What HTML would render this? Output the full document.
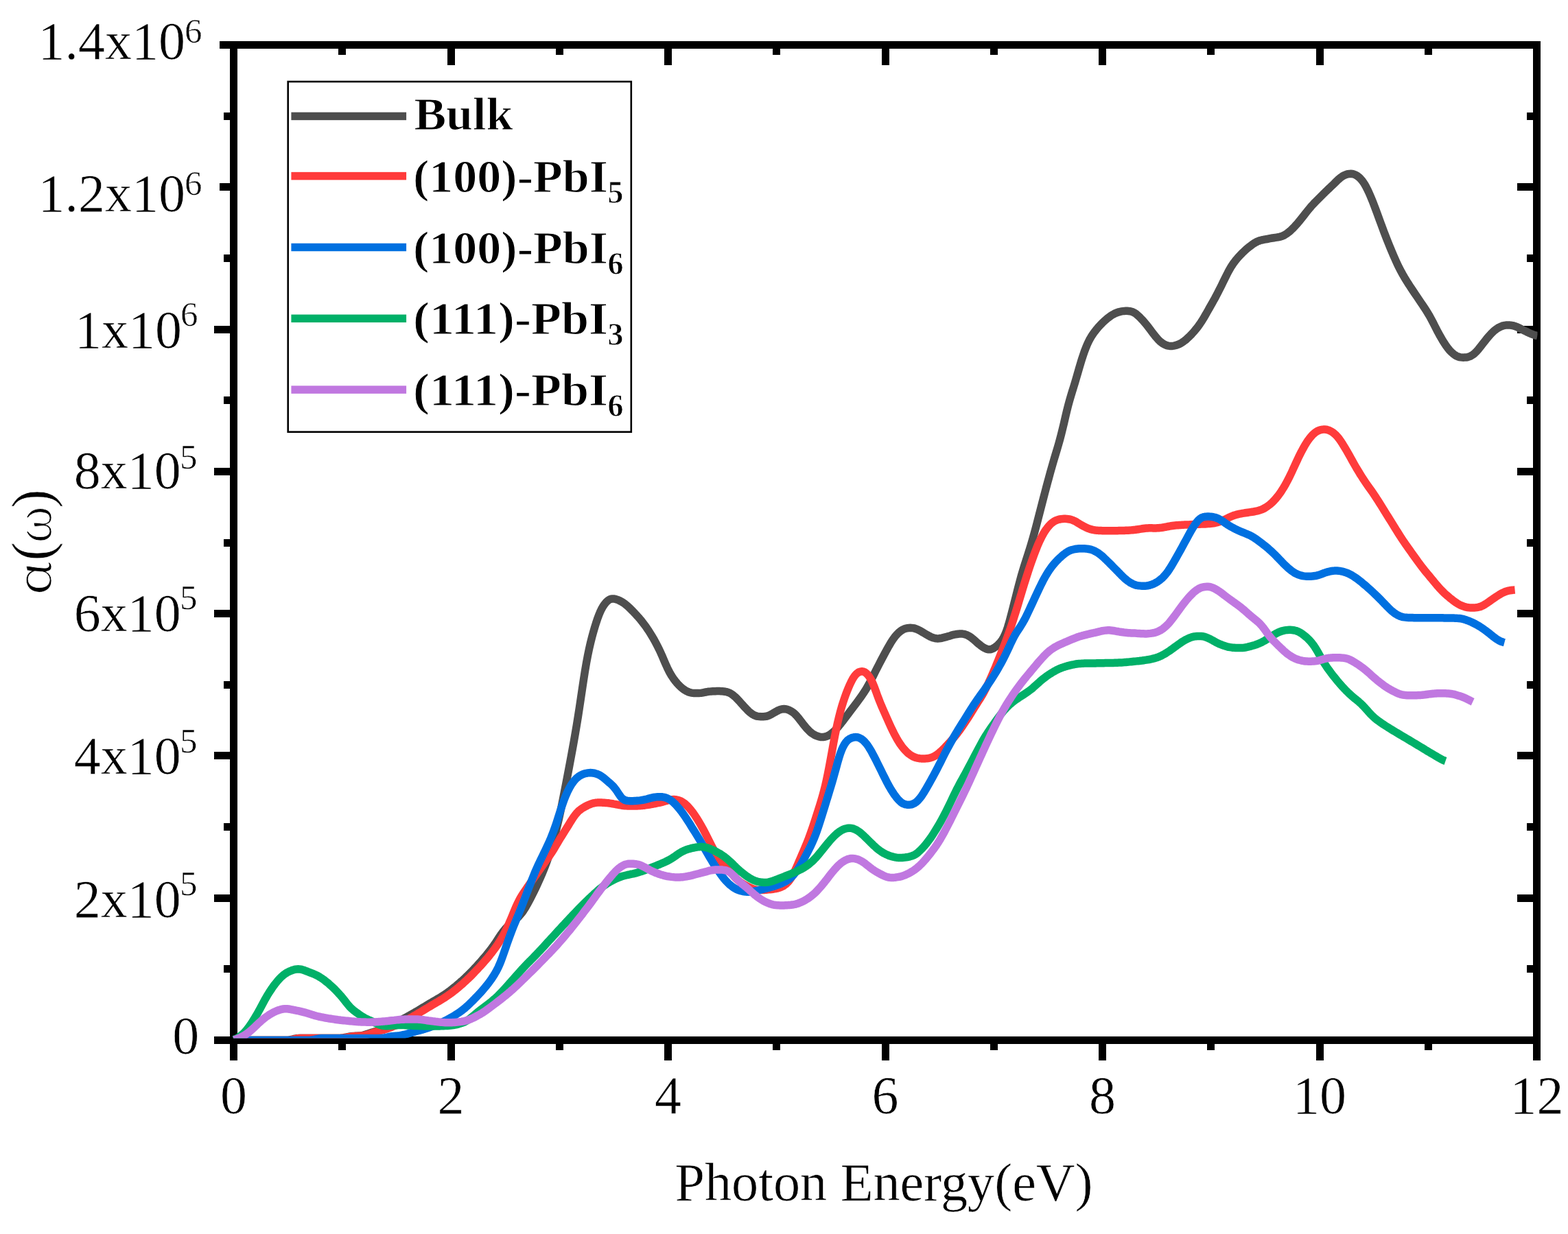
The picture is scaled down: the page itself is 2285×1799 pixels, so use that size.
<!DOCTYPE html>
<html lang="en">
<head>
<meta charset="utf-8">
<title>Absorption coefficient vs photon energy</title>
<style>
html,body{margin:0;padding:0;background:#ffffff;}
body{width:2285px;height:1799px;overflow:hidden;}
svg{display:block;}
</style>
</head>
<body>
<svg width="2285" height="1799" viewBox="0 0 2285 1799" role="img" aria-label="Absorption coefficient versus photon energy">
<rect x="0" y="0" width="2285" height="1799" fill="#ffffff"/>
<defs><clipPath id="plot"><rect x="337.5" y="0" width="1903.0" height="1513.6"/></clipPath></defs>
<g fill="#000" shape-rendering="crispEdges">
<rect x="335" y="60" width="11" height="1462"/>
<rect x="2234" y="60" width="11" height="1462"/>
<rect x="335" y="60" width="1910" height="11"/>
<rect x="335" y="1511" width="1910" height="11"/>
<rect x="335.00" y="1522" width="11" height="23.5"/>
<rect x="335.00" y="71" width="11" height="23.5"/>
<rect x="493.25" y="1522" width="11" height="9"/>
<rect x="493.25" y="71" width="11" height="9"/>
<rect x="651.50" y="1522" width="11" height="23.5"/>
<rect x="651.50" y="71" width="11" height="23.5"/>
<rect x="809.75" y="1522" width="11" height="9"/>
<rect x="809.75" y="71" width="11" height="9"/>
<rect x="968.00" y="1522" width="11" height="23.5"/>
<rect x="968.00" y="71" width="11" height="23.5"/>
<rect x="1126.25" y="1522" width="11" height="9"/>
<rect x="1126.25" y="71" width="11" height="9"/>
<rect x="1284.50" y="1522" width="11" height="23.5"/>
<rect x="1284.50" y="71" width="11" height="23.5"/>
<rect x="1442.75" y="1522" width="11" height="9"/>
<rect x="1442.75" y="71" width="11" height="9"/>
<rect x="1601.00" y="1522" width="11" height="23.5"/>
<rect x="1601.00" y="71" width="11" height="23.5"/>
<rect x="1759.25" y="1522" width="11" height="9"/>
<rect x="1759.25" y="71" width="11" height="9"/>
<rect x="1917.50" y="1522" width="11" height="23.5"/>
<rect x="1917.50" y="71" width="11" height="23.5"/>
<rect x="2075.75" y="1522" width="11" height="9"/>
<rect x="2075.75" y="71" width="11" height="9"/>
<rect x="2234.00" y="1522" width="11" height="23.5"/>
<rect x="2234.00" y="71" width="11" height="23.5"/>
<rect x="311.5" y="1511.00" width="23.5" height="11"/>
<rect x="2210.5" y="1511.00" width="23.5" height="11"/>
<rect x="326" y="1407.36" width="9" height="11"/>
<rect x="2225" y="1407.36" width="9" height="11"/>
<rect x="311.5" y="1303.71" width="23.5" height="11"/>
<rect x="2210.5" y="1303.71" width="23.5" height="11"/>
<rect x="326" y="1200.07" width="9" height="11"/>
<rect x="2225" y="1200.07" width="9" height="11"/>
<rect x="311.5" y="1096.43" width="23.5" height="11"/>
<rect x="2210.5" y="1096.43" width="23.5" height="11"/>
<rect x="326" y="992.78" width="9" height="11"/>
<rect x="2225" y="992.78" width="9" height="11"/>
<rect x="311.5" y="889.14" width="23.5" height="11"/>
<rect x="2210.5" y="889.14" width="23.5" height="11"/>
<rect x="326" y="785.50" width="9" height="11"/>
<rect x="2225" y="785.50" width="9" height="11"/>
<rect x="311.5" y="681.86" width="23.5" height="11"/>
<rect x="2210.5" y="681.86" width="23.5" height="11"/>
<rect x="326" y="578.21" width="9" height="11"/>
<rect x="2225" y="578.21" width="9" height="11"/>
<rect x="311.5" y="474.57" width="23.5" height="11"/>
<rect x="2210.5" y="474.57" width="23.5" height="11"/>
<rect x="326" y="370.93" width="9" height="11"/>
<rect x="2225" y="370.93" width="9" height="11"/>
<rect x="320" y="267.28" width="15" height="11"/>
<rect x="2210.5" y="267.28" width="23.5" height="11"/>
<rect x="326" y="163.64" width="9" height="11"/>
<rect x="2225" y="163.64" width="9" height="11"/>
<rect x="320" y="60.00" width="15" height="11"/>
<rect x="2210.5" y="60.00" width="23.5" height="11"/>
</g>
<g clip-path="url(#plot)" fill="none" stroke-width="11.5" stroke-linejoin="round" stroke-linecap="butt">
<path d="M340.5 1516.5 L342.5 1516.5 L344.5 1516.5 L346.5 1516.5 L348.5 1516.5 L350.5 1516.5 L352.5 1516.5 L354.5 1516.5 L356.5 1516.5 L358.5 1516.5 L360.5 1516.5 L362.5 1516.5 L364.5 1516.5 L366.5 1516.5 L368.5 1516.5 L370.5 1516.5 L372.5 1516.5 L374.5 1516.5 L376.5 1516.5 L378.5 1516.5 L380.5 1516.5 L382.5 1516.5 L384.5 1516.5 L386.5 1516.5 L388.5 1516.5 L390.5 1516.5 L392.5 1516.5 L394.5 1516.5 L396.5 1516.5 L398.5 1516.5 L400.5 1516.5 L402.5 1516.5 L404.5 1516.5 L406.5 1516.5 L408.5 1516.5 L410.5 1516.5 L412.5 1516.5 L414.5 1516.5 L416.5 1516.4 L418.5 1516.4 L420.5 1516.2 L422.5 1515.9 L424.5 1515.5 L426.5 1515.0 L428.5 1514.5 L430.5 1514.1 L432.5 1513.8 L434.5 1513.6 L436.5 1513.6 L438.5 1513.5 L440.5 1513.5 L442.5 1513.5 L444.5 1513.5 L446.5 1513.5 L448.5 1513.5 L450.5 1513.5 L452.5 1513.5 L454.5 1513.5 L456.5 1513.5 L458.5 1513.5 L460.5 1513.5 L462.5 1513.5 L464.5 1513.5 L466.5 1513.5 L468.5 1513.5 L470.5 1513.5 L472.5 1513.5 L474.5 1513.5 L476.5 1513.5 L478.5 1513.5 L480.5 1513.5 L482.5 1513.5 L484.5 1513.5 L486.5 1513.5 L488.5 1513.5 L490.5 1513.5 L492.5 1513.5 L494.5 1513.4 L496.5 1513.3 L498.5 1513.1 L500.5 1512.9 L502.5 1512.5 L504.5 1512.1 L506.5 1511.7 L508.5 1511.3 L510.5 1511.0 L512.5 1510.7 L514.5 1510.5 L516.5 1510.4 L518.5 1510.3 L520.5 1510.2 L522.5 1510.1 L524.5 1509.9 L526.5 1509.7 L528.5 1509.3 L530.5 1508.8 L532.5 1508.2 L534.5 1507.6 L536.5 1506.9 L538.5 1506.3 L540.5 1505.6 L542.5 1505.0 L544.5 1504.4 L546.5 1503.9 L548.5 1503.4 L550.5 1502.8 L552.5 1502.3 L554.5 1501.6 L556.5 1500.9 L558.5 1500.2 L560.5 1499.4 L562.5 1498.5 L564.5 1497.5 L566.5 1496.6 L568.5 1495.5 L570.5 1494.5 L572.5 1493.5 L574.5 1492.4 L576.5 1491.3 L578.5 1490.3 L580.5 1489.2 L582.5 1488.2 L584.5 1487.1 L586.5 1486.0 L588.5 1484.9 L590.5 1483.8 L592.5 1482.7 L594.5 1481.6 L596.5 1480.5 L598.5 1479.4 L600.5 1478.2 L602.5 1477.1 L604.5 1475.9 L606.5 1474.8 L608.5 1473.6 L610.5 1472.4 L612.5 1471.2 L614.5 1470.0 L616.5 1468.8 L618.5 1467.6 L620.5 1466.4 L622.5 1465.2 L624.5 1464.0 L626.5 1462.8 L628.5 1461.6 L630.5 1460.4 L632.5 1459.3 L634.5 1458.1 L636.5 1456.9 L638.5 1455.8 L640.5 1454.6 L642.5 1453.4 L644.5 1452.1 L646.5 1450.8 L648.5 1449.5 L650.5 1448.1 L652.5 1446.7 L654.5 1445.3 L656.5 1443.8 L658.5 1442.2 L660.5 1440.6 L662.5 1439.0 L664.5 1437.4 L666.5 1435.7 L668.5 1434.0 L670.5 1432.2 L672.5 1430.5 L674.5 1428.7 L676.5 1426.8 L678.5 1424.9 L680.5 1423.0 L682.5 1421.0 L684.5 1419.0 L686.5 1417.0 L688.5 1415.0 L690.5 1412.9 L692.5 1410.7 L694.5 1408.6 L696.5 1406.4 L698.5 1404.2 L700.5 1401.9 L702.5 1399.7 L704.5 1397.3 L706.5 1395.0 L708.5 1392.6 L710.5 1390.1 L712.5 1387.6 L714.5 1385.1 L716.5 1382.4 L718.5 1379.7 L720.5 1376.8 L722.5 1373.9 L724.5 1370.8 L726.5 1367.8 L728.5 1364.8 L730.5 1361.8 L732.5 1359.0 L734.5 1356.4 L736.5 1354.1 L738.5 1351.9 L740.5 1349.9 L742.5 1348.0 L744.5 1346.3 L746.5 1344.6 L748.5 1342.9 L750.5 1341.2 L752.5 1339.5 L754.5 1337.6 L756.5 1335.6 L758.5 1333.3 L760.5 1330.9 L762.5 1328.1 L764.5 1325.0 L766.5 1321.7 L768.5 1318.2 L770.5 1314.5 L772.5 1310.7 L774.5 1306.8 L776.5 1302.9 L778.5 1298.9 L780.5 1294.7 L782.5 1290.5 L784.5 1286.2 L786.5 1281.7 L788.5 1277.2 L790.5 1272.5 L792.5 1267.6 L794.5 1262.6 L796.5 1257.2 L798.5 1251.6 L800.5 1245.7 L802.5 1239.4 L804.5 1232.7 L806.5 1225.7 L808.5 1218.3 L810.5 1210.4 L812.5 1202.2 L814.5 1193.4 L816.5 1184.2 L818.5 1174.6 L820.5 1164.6 L822.5 1154.4 L824.5 1144.1 L826.5 1133.6 L828.5 1123.1 L830.5 1112.5 L832.5 1101.8 L834.5 1090.9 L836.5 1079.8 L838.5 1068.3 L840.5 1056.4 L842.5 1044.0 L844.5 1031.0 L846.5 1017.6 L848.5 1004.1 L850.5 990.8 L852.5 978.1 L854.5 966.4 L856.5 955.7 L858.5 946.1 L860.5 937.4 L862.5 929.4 L864.5 922.0 L866.5 915.1 L868.5 908.6 L870.5 902.6 L872.5 897.2 L874.5 892.3 L876.5 888.1 L878.5 884.5 L880.5 881.5 L882.5 878.9 L884.5 876.8 L886.5 875.1 L888.5 873.9 L890.5 873.2 L892.5 872.9 L894.5 872.9 L896.5 873.3 L898.5 873.9 L900.5 874.6 L902.5 875.5 L904.5 876.5 L906.5 877.6 L908.5 878.9 L910.5 880.3 L912.5 881.9 L914.5 883.6 L916.5 885.4 L918.5 887.4 L920.5 889.4 L922.5 891.4 L924.5 893.5 L926.5 895.6 L928.5 897.8 L930.5 900.0 L932.5 902.4 L934.5 904.8 L936.5 907.3 L938.5 909.9 L940.5 912.6 L942.5 915.5 L944.5 918.4 L946.5 921.5 L948.5 924.7 L950.5 928.0 L952.5 931.4 L954.5 935.0 L956.5 938.7 L958.5 942.6 L960.5 946.6 L962.5 950.9 L964.5 955.3 L966.5 960.0 L968.5 964.7 L970.5 969.3 L972.5 973.7 L974.5 977.8 L976.5 981.6 L978.5 984.9 L980.5 988.0 L982.5 990.8 L984.5 993.4 L986.5 995.8 L988.5 998.0 L990.5 1000.1 L992.5 1001.9 L994.5 1003.6 L996.5 1005.1 L998.5 1006.4 L1000.5 1007.6 L1002.5 1008.5 L1004.5 1009.2 L1006.5 1009.8 L1008.5 1010.2 L1010.5 1010.4 L1012.5 1010.5 L1014.5 1010.6 L1016.5 1010.6 L1018.5 1010.6 L1020.5 1010.4 L1022.5 1010.2 L1024.5 1009.8 L1026.5 1009.4 L1028.5 1009.0 L1030.5 1008.6 L1032.5 1008.3 L1034.5 1008.1 L1036.5 1007.9 L1038.5 1007.8 L1040.5 1007.7 L1042.5 1007.7 L1044.5 1007.6 L1046.5 1007.6 L1048.5 1007.6 L1050.5 1007.7 L1052.5 1007.8 L1054.5 1008.0 L1056.5 1008.3 L1058.5 1008.6 L1060.5 1009.2 L1062.5 1009.9 L1064.5 1010.9 L1066.5 1012.1 L1068.5 1013.6 L1070.5 1015.3 L1072.5 1017.1 L1074.5 1019.1 L1076.5 1021.3 L1078.5 1023.4 L1080.5 1025.7 L1082.5 1027.9 L1084.5 1030.2 L1086.5 1032.3 L1088.5 1034.4 L1090.5 1036.4 L1092.5 1038.2 L1094.5 1039.8 L1096.5 1041.2 L1098.5 1042.4 L1100.5 1043.3 L1102.5 1044.0 L1104.5 1044.4 L1106.5 1044.6 L1108.5 1044.7 L1110.5 1044.8 L1112.5 1044.7 L1114.5 1044.6 L1116.5 1044.3 L1118.5 1043.8 L1120.5 1043.1 L1122.5 1042.1 L1124.5 1041.1 L1126.5 1039.9 L1128.5 1038.7 L1130.5 1037.6 L1132.5 1036.5 L1134.5 1035.5 L1136.5 1034.7 L1138.5 1034.1 L1140.5 1033.7 L1142.5 1033.5 L1144.5 1033.7 L1146.5 1034.1 L1148.5 1034.7 L1150.5 1035.6 L1152.5 1036.6 L1154.5 1037.9 L1156.5 1039.3 L1158.5 1041.1 L1160.5 1043.1 L1162.5 1045.4 L1164.5 1047.9 L1166.5 1050.5 L1168.5 1053.1 L1170.5 1055.7 L1172.5 1058.2 L1174.5 1060.6 L1176.5 1062.8 L1178.5 1064.9 L1180.5 1066.8 L1182.5 1068.5 L1184.5 1069.9 L1186.5 1071.1 L1188.5 1072.2 L1190.5 1073.0 L1192.5 1073.6 L1194.5 1074.1 L1196.5 1074.5 L1198.5 1074.5 L1200.5 1074.4 L1202.5 1074.0 L1204.5 1073.4 L1206.5 1072.6 L1208.5 1071.5 L1210.5 1070.2 L1212.5 1068.7 L1214.5 1067.0 L1216.5 1065.0 L1218.5 1062.9 L1220.5 1060.7 L1222.5 1058.3 L1224.5 1055.9 L1226.5 1053.3 L1228.5 1050.8 L1230.5 1048.1 L1232.5 1045.5 L1234.5 1042.8 L1236.5 1040.2 L1238.5 1037.6 L1240.5 1034.9 L1242.5 1032.3 L1244.5 1029.6 L1246.5 1027.0 L1248.5 1024.3 L1250.5 1021.6 L1252.5 1018.9 L1254.5 1016.1 L1256.5 1013.2 L1258.5 1010.3 L1260.5 1007.2 L1262.5 1003.9 L1264.5 1000.5 L1266.5 996.9 L1268.5 993.1 L1270.5 989.2 L1272.5 985.3 L1274.5 981.3 L1276.5 977.3 L1278.5 973.4 L1280.5 969.5 L1282.5 965.6 L1284.5 961.8 L1286.5 958.0 L1288.5 954.3 L1290.5 950.5 L1292.5 946.9 L1294.5 943.3 L1296.5 939.8 L1298.5 936.4 L1300.5 933.3 L1302.5 930.4 L1304.5 927.8 L1306.5 925.5 L1308.5 923.4 L1310.5 921.5 L1312.5 919.9 L1314.5 918.6 L1316.5 917.5 L1318.5 916.7 L1320.5 916.1 L1322.5 915.7 L1324.5 915.4 L1326.5 915.3 L1328.5 915.4 L1330.5 915.6 L1332.5 916.0 L1334.5 916.7 L1336.5 917.4 L1338.5 918.4 L1340.5 919.4 L1342.5 920.5 L1344.5 921.7 L1346.5 922.9 L1348.5 924.1 L1350.5 925.3 L1352.5 926.4 L1354.5 927.5 L1356.5 928.5 L1358.5 929.3 L1360.5 930.0 L1362.5 930.5 L1364.5 930.8 L1366.5 930.9 L1368.5 930.8 L1370.5 930.5 L1372.5 930.2 L1374.5 929.7 L1376.5 929.2 L1378.5 928.7 L1380.5 928.1 L1382.5 927.5 L1384.5 926.9 L1386.5 926.2 L1388.5 925.7 L1390.5 925.2 L1392.5 924.8 L1394.5 924.5 L1396.5 924.2 L1398.5 924.1 L1400.5 924.0 L1402.5 924.1 L1404.5 924.4 L1406.5 924.9 L1408.5 925.6 L1410.5 926.5 L1412.5 927.6 L1414.5 928.9 L1416.5 930.4 L1418.5 932.0 L1420.5 933.8 L1422.5 935.6 L1424.5 937.3 L1426.5 939.0 L1428.5 940.6 L1430.5 942.1 L1432.5 943.5 L1434.5 944.6 L1436.5 945.6 L1438.5 946.4 L1440.5 946.8 L1442.5 946.8 L1444.5 946.5 L1446.5 945.7 L1448.5 944.6 L1450.5 943.3 L1452.5 941.7 L1454.5 939.9 L1456.5 937.9 L1458.5 935.6 L1460.5 932.8 L1462.5 929.5 L1464.5 925.3 L1466.5 920.3 L1468.5 914.5 L1470.5 907.8 L1472.5 900.6 L1474.5 892.9 L1476.5 885.1 L1478.5 877.2 L1480.5 869.3 L1482.5 861.4 L1484.5 853.7 L1486.5 846.1 L1488.5 838.9 L1490.5 832.0 L1492.5 825.5 L1494.5 819.2 L1496.5 813.0 L1498.5 806.8 L1500.5 800.5 L1502.5 794.0 L1504.5 787.2 L1506.5 780.1 L1508.5 772.8 L1510.5 765.2 L1512.5 757.5 L1514.5 749.7 L1516.5 742.0 L1518.5 734.2 L1520.5 726.5 L1522.5 718.9 L1524.5 711.3 L1526.5 703.8 L1528.5 696.4 L1530.5 689.1 L1532.5 682.0 L1534.5 675.0 L1536.5 668.2 L1538.5 661.5 L1540.5 654.8 L1542.5 648.0 L1544.5 640.9 L1546.5 633.3 L1548.5 625.2 L1550.5 616.8 L1552.5 608.1 L1554.5 599.6 L1556.5 591.6 L1558.5 584.2 L1560.5 577.3 L1562.5 570.8 L1564.5 564.4 L1566.5 557.8 L1568.5 551.0 L1570.5 544.1 L1572.5 537.2 L1574.5 530.3 L1576.5 523.8 L1578.5 517.7 L1580.5 511.9 L1582.5 506.7 L1584.5 501.9 L1586.5 497.6 L1588.5 493.8 L1590.5 490.4 L1592.5 487.3 L1594.5 484.5 L1596.5 481.9 L1598.5 479.4 L1600.5 477.1 L1602.5 474.9 L1604.5 472.8 L1606.5 470.7 L1608.5 468.8 L1610.5 467.0 L1612.5 465.2 L1614.5 463.6 L1616.5 462.1 L1618.5 460.6 L1620.5 459.3 L1622.5 458.2 L1624.5 457.1 L1626.5 456.2 L1628.5 455.5 L1630.5 454.8 L1632.5 454.3 L1634.5 453.9 L1636.5 453.6 L1638.5 453.4 L1640.5 453.3 L1642.5 453.3 L1644.5 453.5 L1646.5 453.7 L1648.5 454.1 L1650.5 454.8 L1652.5 455.7 L1654.5 456.9 L1656.5 458.4 L1658.5 460.2 L1660.5 462.0 L1662.5 464.1 L1664.5 466.2 L1666.5 468.4 L1668.5 470.7 L1670.5 473.1 L1672.5 475.6 L1674.5 478.2 L1676.5 480.9 L1678.5 483.6 L1680.5 486.2 L1682.5 488.8 L1684.5 491.3 L1686.5 493.6 L1688.5 495.7 L1690.5 497.7 L1692.5 499.3 L1694.5 500.7 L1696.5 501.9 L1698.5 502.8 L1700.5 503.6 L1702.5 504.1 L1704.5 504.4 L1706.5 504.5 L1708.5 504.4 L1710.5 504.1 L1712.5 503.7 L1714.5 503.2 L1716.5 502.4 L1718.5 501.6 L1720.5 500.6 L1722.5 499.4 L1724.5 498.0 L1726.5 496.5 L1728.5 494.9 L1730.5 493.1 L1732.5 491.3 L1734.5 489.3 L1736.5 487.2 L1738.5 485.0 L1740.5 482.7 L1742.5 480.3 L1744.5 477.8 L1746.5 475.2 L1748.5 472.4 L1750.5 469.4 L1752.5 466.2 L1754.5 462.9 L1756.5 459.5 L1758.5 456.0 L1760.5 452.5 L1762.5 448.9 L1764.5 445.4 L1766.5 441.9 L1768.5 438.3 L1770.5 434.7 L1772.5 430.9 L1774.5 427.1 L1776.5 423.2 L1778.5 419.2 L1780.5 415.2 L1782.5 411.1 L1784.5 407.0 L1786.5 402.9 L1788.5 399.0 L1790.5 395.1 L1792.5 391.6 L1794.5 388.2 L1796.5 385.2 L1798.5 382.4 L1800.5 379.8 L1802.5 377.4 L1804.5 375.1 L1806.5 372.9 L1808.5 370.8 L1810.5 368.7 L1812.5 366.8 L1814.5 364.9 L1816.5 363.1 L1818.5 361.4 L1820.5 359.8 L1822.5 358.3 L1824.5 356.8 L1826.5 355.4 L1828.5 354.1 L1830.5 353.0 L1832.5 352.0 L1834.5 351.2 L1836.5 350.5 L1838.5 350.0 L1840.5 349.6 L1842.5 349.2 L1844.5 348.8 L1846.5 348.5 L1848.5 348.1 L1850.5 347.7 L1852.5 347.3 L1854.5 347.0 L1856.5 346.7 L1858.5 346.4 L1860.5 346.1 L1862.5 345.8 L1864.5 345.4 L1866.5 344.9 L1868.5 344.2 L1870.5 343.4 L1872.5 342.3 L1874.5 341.0 L1876.5 339.6 L1878.5 338.0 L1880.5 336.3 L1882.5 334.4 L1884.5 332.5 L1886.5 330.4 L1888.5 328.2 L1890.5 325.9 L1892.5 323.6 L1894.5 321.1 L1896.5 318.6 L1898.5 316.1 L1900.5 313.6 L1902.5 311.0 L1904.5 308.5 L1906.5 306.0 L1908.5 303.6 L1910.5 301.2 L1912.5 299.0 L1914.5 296.8 L1916.5 294.7 L1918.5 292.7 L1920.5 290.7 L1922.5 288.7 L1924.5 286.7 L1926.5 284.7 L1928.5 282.7 L1930.5 280.8 L1932.5 278.8 L1934.5 276.9 L1936.5 275.0 L1938.5 273.1 L1940.5 271.2 L1942.5 269.3 L1944.5 267.4 L1946.5 265.4 L1948.5 263.4 L1950.5 261.5 L1952.5 259.8 L1954.5 258.2 L1956.5 256.9 L1958.5 255.8 L1960.5 254.9 L1962.5 254.2 L1964.5 253.7 L1966.5 253.4 L1968.5 253.3 L1970.5 253.5 L1972.5 253.9 L1974.5 254.6 L1976.5 255.6 L1978.5 256.9 L1980.5 258.5 L1982.5 260.4 L1984.5 262.7 L1986.5 265.4 L1988.5 268.4 L1990.5 271.9 L1992.5 275.8 L1994.5 280.0 L1996.5 284.5 L1998.5 289.2 L2000.5 294.2 L2002.5 299.3 L2004.5 304.6 L2006.5 310.0 L2008.5 315.5 L2010.5 320.9 L2012.5 326.4 L2014.5 331.8 L2016.5 337.2 L2018.5 342.4 L2020.5 347.6 L2022.5 352.6 L2024.5 357.6 L2026.5 362.5 L2028.5 367.2 L2030.5 371.9 L2032.5 376.5 L2034.5 381.0 L2036.5 385.3 L2038.5 389.4 L2040.5 393.3 L2042.5 397.1 L2044.5 400.7 L2046.5 404.2 L2048.5 407.5 L2050.5 410.7 L2052.5 413.9 L2054.5 417.0 L2056.5 420.0 L2058.5 423.0 L2060.5 426.0 L2062.5 428.9 L2064.5 431.9 L2066.5 434.9 L2068.5 437.9 L2070.5 440.9 L2072.5 443.8 L2074.5 446.8 L2076.5 449.8 L2078.5 452.9 L2080.5 456.1 L2082.5 459.4 L2084.5 463.0 L2086.5 466.7 L2088.5 470.5 L2090.5 474.5 L2092.5 478.4 L2094.5 482.3 L2096.5 486.0 L2098.5 489.7 L2100.5 493.2 L2102.5 496.6 L2104.5 499.8 L2106.5 502.8 L2108.5 505.6 L2110.5 508.3 L2112.5 510.7 L2114.5 512.8 L2116.5 514.7 L2118.5 516.4 L2120.5 517.8 L2122.5 519.0 L2124.5 519.8 L2126.5 520.5 L2128.5 520.9 L2130.5 521.1 L2132.5 521.2 L2134.5 521.1 L2136.5 521.0 L2138.5 520.7 L2140.5 520.1 L2142.5 519.4 L2144.5 518.3 L2146.5 517.0 L2148.5 515.4 L2150.5 513.6 L2152.5 511.5 L2154.5 509.2 L2156.5 506.7 L2158.5 504.2 L2160.5 501.6 L2162.5 499.0 L2164.5 496.4 L2166.5 493.9 L2168.5 491.5 L2170.5 489.2 L2172.5 487.0 L2174.5 484.9 L2176.5 483.1 L2178.5 481.3 L2180.5 479.8 L2182.5 478.5 L2184.5 477.3 L2186.5 476.3 L2188.5 475.5 L2190.5 474.8 L2192.5 474.4 L2194.5 474.1 L2196.5 474.0 L2198.5 474.0 L2200.5 474.1 L2202.5 474.3 L2204.5 474.7 L2206.5 475.2 L2208.5 475.8 L2210.5 476.6 L2212.5 477.5 L2214.5 478.5 L2216.5 479.5 L2218.5 480.6 L2220.5 481.6 L2222.5 482.6 L2224.5 483.5 L2226.5 484.5 L2228.5 485.4 L2230.5 486.3 L2232.5 487.1 L2234.5 487.9 L2236.5 488.6 L2238.5 489.1 L2240.5 489.6" stroke="#4e4e4e"/>
<path d="M340.5 1516.5 L342.5 1516.5 L344.5 1516.5 L346.5 1516.5 L348.5 1516.5 L350.5 1516.5 L352.5 1516.5 L354.5 1516.5 L356.5 1516.5 L358.5 1516.5 L360.5 1516.5 L362.5 1516.5 L364.5 1516.5 L366.5 1516.5 L368.5 1516.5 L370.5 1516.5 L372.5 1516.5 L374.5 1516.5 L376.5 1516.5 L378.5 1516.5 L380.5 1516.5 L382.5 1516.5 L384.5 1516.5 L386.5 1516.5 L388.5 1516.5 L390.5 1516.5 L392.5 1516.5 L394.5 1516.5 L396.5 1516.5 L398.5 1516.5 L400.5 1516.5 L402.5 1516.5 L404.5 1516.5 L406.5 1516.5 L408.5 1516.5 L410.5 1516.5 L412.5 1516.5 L414.5 1516.5 L416.5 1516.5 L418.5 1516.4 L420.5 1516.4 L422.5 1516.2 L424.5 1515.9 L426.5 1515.5 L428.5 1515.0 L430.5 1514.5 L432.5 1514.1 L434.5 1513.8 L436.5 1513.6 L438.5 1513.6 L440.5 1513.5 L442.5 1513.5 L444.5 1513.5 L446.5 1513.5 L448.5 1513.5 L450.5 1513.5 L452.5 1513.5 L454.5 1513.5 L456.5 1513.5 L458.5 1513.5 L460.5 1513.5 L462.5 1513.5 L464.5 1513.5 L466.5 1513.5 L468.5 1513.5 L470.5 1513.5 L472.5 1513.5 L474.5 1513.5 L476.5 1513.5 L478.5 1513.5 L480.5 1513.5 L482.5 1513.5 L484.5 1513.5 L486.5 1513.5 L488.5 1513.5 L490.5 1513.5 L492.5 1513.5 L494.5 1513.5 L496.5 1513.4 L498.5 1513.3 L500.5 1513.2 L502.5 1512.9 L504.5 1512.6 L506.5 1512.2 L508.5 1511.8 L510.5 1511.4 L512.5 1511.1 L514.5 1510.8 L516.5 1510.6 L518.5 1510.5 L520.5 1510.4 L522.5 1510.3 L524.5 1510.2 L526.5 1510.0 L528.5 1509.8 L530.5 1509.5 L532.5 1509.1 L534.5 1508.5 L536.5 1507.9 L538.5 1507.3 L540.5 1506.6 L542.5 1505.9 L544.5 1505.3 L546.5 1504.7 L548.5 1504.2 L550.5 1503.6 L552.5 1503.1 L554.5 1502.6 L556.5 1502.0 L558.5 1501.5 L560.5 1500.8 L562.5 1500.2 L564.5 1499.5 L566.5 1498.8 L568.5 1498.1 L570.5 1497.3 L572.5 1496.5 L574.5 1495.7 L576.5 1494.9 L578.5 1494.0 L580.5 1493.2 L582.5 1492.3 L584.5 1491.3 L586.5 1490.3 L588.5 1489.3 L590.5 1488.3 L592.5 1487.2 L594.5 1486.1 L596.5 1485.0 L598.5 1483.8 L600.5 1482.7 L602.5 1481.5 L604.5 1480.3 L606.5 1479.2 L608.5 1478.0 L610.5 1476.8 L612.5 1475.6 L614.5 1474.4 L616.5 1473.2 L618.5 1472.0 L620.5 1470.8 L622.5 1469.6 L624.5 1468.4 L626.5 1467.2 L628.5 1466.0 L630.5 1464.8 L632.5 1463.6 L634.5 1462.5 L636.5 1461.3 L638.5 1460.2 L640.5 1459.0 L642.5 1457.8 L644.5 1456.6 L646.5 1455.4 L648.5 1454.1 L650.5 1452.8 L652.5 1451.4 L654.5 1450.0 L656.5 1448.6 L658.5 1447.1 L660.5 1445.6 L662.5 1444.0 L664.5 1442.4 L666.5 1440.8 L668.5 1439.1 L670.5 1437.4 L672.5 1435.7 L674.5 1433.9 L676.5 1432.1 L678.5 1430.3 L680.5 1428.4 L682.5 1426.5 L684.5 1424.6 L686.5 1422.6 L688.5 1420.6 L690.5 1418.5 L692.5 1416.4 L694.5 1414.3 L696.5 1412.2 L698.5 1410.0 L700.5 1407.8 L702.5 1405.6 L704.5 1403.4 L706.5 1401.1 L708.5 1398.7 L710.5 1396.4 L712.5 1394.0 L714.5 1391.5 L716.5 1388.9 L718.5 1386.3 L720.5 1383.6 L722.5 1380.8 L724.5 1377.9 L726.5 1375.0 L728.5 1371.8 L730.5 1368.6 L732.5 1365.1 L734.5 1361.5 L736.5 1357.6 L738.5 1353.5 L740.5 1349.2 L742.5 1344.6 L744.5 1339.9 L746.5 1335.1 L748.5 1330.3 L750.5 1325.5 L752.5 1320.8 L754.5 1316.5 L756.5 1312.5 L758.5 1308.9 L760.5 1305.5 L762.5 1302.4 L764.5 1299.4 L766.5 1296.5 L768.5 1293.6 L770.5 1290.7 L772.5 1287.8 L774.5 1284.9 L776.5 1282.1 L778.5 1279.2 L780.5 1276.4 L782.5 1273.6 L784.5 1270.7 L786.5 1267.9 L788.5 1265.0 L790.5 1262.2 L792.5 1259.3 L794.5 1256.5 L796.5 1253.6 L798.5 1250.8 L800.5 1247.9 L802.5 1245.0 L804.5 1242.0 L806.5 1238.9 L808.5 1235.6 L810.5 1232.2 L812.5 1228.8 L814.5 1225.4 L816.5 1222.1 L818.5 1218.9 L820.5 1215.7 L822.5 1212.5 L824.5 1209.3 L826.5 1206.1 L828.5 1202.9 L830.5 1199.6 L832.5 1196.4 L834.5 1193.2 L836.5 1190.3 L838.5 1187.6 L840.5 1185.2 L842.5 1183.1 L844.5 1181.3 L846.5 1179.8 L848.5 1178.4 L850.5 1177.2 L852.5 1176.0 L854.5 1175.0 L856.5 1174.0 L858.5 1173.1 L860.5 1172.3 L862.5 1171.6 L864.5 1171.0 L866.5 1170.6 L868.5 1170.3 L870.5 1170.1 L872.5 1170.0 L874.5 1170.0 L876.5 1170.1 L878.5 1170.2 L880.5 1170.3 L882.5 1170.4 L884.5 1170.6 L886.5 1170.8 L888.5 1171.1 L890.5 1171.4 L892.5 1171.7 L894.5 1172.1 L896.5 1172.4 L898.5 1172.8 L900.5 1173.2 L902.5 1173.6 L904.5 1173.9 L906.5 1174.2 L908.5 1174.5 L910.5 1174.7 L912.5 1174.8 L914.5 1174.9 L916.5 1175.0 L918.5 1175.1 L920.5 1175.1 L922.5 1175.1 L924.5 1175.1 L926.5 1175.0 L928.5 1174.9 L930.5 1174.8 L932.5 1174.7 L934.5 1174.5 L936.5 1174.4 L938.5 1174.2 L940.5 1173.9 L942.5 1173.6 L944.5 1173.3 L946.5 1173.0 L948.5 1172.6 L950.5 1172.3 L952.5 1171.9 L954.5 1171.5 L956.5 1171.1 L958.5 1170.7 L960.5 1170.3 L962.5 1169.8 L964.5 1169.3 L966.5 1168.8 L968.5 1168.2 L970.5 1167.6 L972.5 1167.1 L974.5 1166.5 L976.5 1166.1 L978.5 1165.8 L980.5 1165.6 L982.5 1165.6 L984.5 1165.7 L986.5 1166.1 L988.5 1166.6 L990.5 1167.2 L992.5 1168.1 L994.5 1169.2 L996.5 1170.5 L998.5 1172.1 L1000.5 1173.9 L1002.5 1175.9 L1004.5 1178.1 L1006.5 1180.5 L1008.5 1183.0 L1010.5 1185.7 L1012.5 1188.5 L1014.5 1191.6 L1016.5 1194.7 L1018.5 1198.0 L1020.5 1201.4 L1022.5 1204.9 L1024.5 1208.6 L1026.5 1212.3 L1028.5 1216.2 L1030.5 1220.1 L1032.5 1224.0 L1034.5 1228.0 L1036.5 1232.0 L1038.5 1235.9 L1040.5 1239.7 L1042.5 1243.4 L1044.5 1246.9 L1046.5 1250.2 L1048.5 1253.3 L1050.5 1256.1 L1052.5 1258.6 L1054.5 1260.8 L1056.5 1262.9 L1058.5 1265.0 L1060.5 1267.0 L1062.5 1269.2 L1064.5 1271.5 L1066.5 1273.8 L1068.5 1276.1 L1070.5 1278.4 L1072.5 1280.5 L1074.5 1282.4 L1076.5 1284.1 L1078.5 1285.7 L1080.5 1287.1 L1082.5 1288.4 L1084.5 1289.6 L1086.5 1290.7 L1088.5 1291.8 L1090.5 1292.8 L1092.5 1293.8 L1094.5 1294.7 L1096.5 1295.6 L1098.5 1296.3 L1100.5 1296.8 L1102.5 1297.2 L1104.5 1297.5 L1106.5 1297.6 L1108.5 1297.6 L1110.5 1297.6 L1112.5 1297.5 L1114.5 1297.4 L1116.5 1297.2 L1118.5 1297.1 L1120.5 1296.9 L1122.5 1296.7 L1124.5 1296.5 L1126.5 1296.2 L1128.5 1295.9 L1130.5 1295.5 L1132.5 1295.1 L1134.5 1294.6 L1136.5 1294.0 L1138.5 1293.2 L1140.5 1292.2 L1142.5 1291.0 L1144.5 1289.5 L1146.5 1287.8 L1148.5 1285.7 L1150.5 1283.3 L1152.5 1280.4 L1154.5 1277.1 L1156.5 1273.4 L1158.5 1269.2 L1160.5 1264.8 L1162.5 1260.2 L1164.5 1255.6 L1166.5 1251.0 L1168.5 1246.4 L1170.5 1241.8 L1172.5 1237.1 L1174.5 1232.3 L1176.5 1227.4 L1178.5 1222.2 L1180.5 1216.8 L1182.5 1211.1 L1184.5 1205.3 L1186.5 1199.3 L1188.5 1193.2 L1190.5 1187.0 L1192.5 1180.7 L1194.5 1174.4 L1196.5 1167.8 L1198.5 1161.0 L1200.5 1153.7 L1202.5 1145.8 L1204.5 1137.1 L1206.5 1127.5 L1208.5 1117.2 L1210.5 1106.3 L1212.5 1095.2 L1214.5 1084.1 L1216.5 1073.5 L1218.5 1063.5 L1220.5 1054.2 L1222.5 1045.7 L1224.5 1037.9 L1226.5 1030.7 L1228.5 1024.2 L1230.5 1018.2 L1232.5 1012.6 L1234.5 1007.4 L1236.5 1002.5 L1238.5 997.9 L1240.5 993.7 L1242.5 989.9 L1244.5 986.7 L1246.5 984.1 L1248.5 982.0 L1250.5 980.5 L1252.5 979.5 L1254.5 978.9 L1256.5 978.8 L1258.5 979.2 L1260.5 980.1 L1262.5 981.6 L1264.5 983.6 L1266.5 986.2 L1268.5 989.3 L1270.5 993.1 L1272.5 997.6 L1274.5 1002.7 L1276.5 1008.1 L1278.5 1013.6 L1280.5 1018.9 L1282.5 1024.0 L1284.5 1028.9 L1286.5 1033.5 L1288.5 1038.0 L1290.5 1042.5 L1292.5 1047.0 L1294.5 1051.5 L1296.5 1056.0 L1298.5 1060.3 L1300.5 1064.5 L1302.5 1068.6 L1304.5 1072.4 L1306.5 1076.1 L1308.5 1079.5 L1310.5 1082.7 L1312.5 1085.7 L1314.5 1088.5 L1316.5 1091.0 L1318.5 1093.3 L1320.5 1095.4 L1322.5 1097.3 L1324.5 1099.0 L1326.5 1100.5 L1328.5 1101.8 L1330.5 1102.9 L1332.5 1103.8 L1334.5 1104.5 L1336.5 1105.1 L1338.5 1105.4 L1340.5 1105.7 L1342.5 1105.9 L1344.5 1106.0 L1346.5 1106.0 L1348.5 1105.9 L1350.5 1105.7 L1352.5 1105.5 L1354.5 1105.1 L1356.5 1104.6 L1358.5 1104.0 L1360.5 1103.1 L1362.5 1102.0 L1364.5 1100.8 L1366.5 1099.3 L1368.5 1097.7 L1370.5 1096.0 L1372.5 1094.1 L1374.5 1092.2 L1376.5 1090.1 L1378.5 1088.0 L1380.5 1085.9 L1382.5 1083.8 L1384.5 1081.6 L1386.5 1079.4 L1388.5 1077.1 L1390.5 1074.8 L1392.5 1072.4 L1394.5 1069.9 L1396.5 1067.2 L1398.5 1064.5 L1400.5 1061.7 L1402.5 1058.9 L1404.5 1055.9 L1406.5 1052.9 L1408.5 1049.9 L1410.5 1046.8 L1412.5 1043.6 L1414.5 1040.4 L1416.5 1037.2 L1418.5 1034.0 L1420.5 1030.8 L1422.5 1027.6 L1424.5 1024.5 L1426.5 1021.3 L1428.5 1018.1 L1430.5 1014.8 L1432.5 1011.3 L1434.5 1007.7 L1436.5 1003.8 L1438.5 999.8 L1440.5 995.7 L1442.5 991.3 L1444.5 986.9 L1446.5 982.3 L1448.5 977.6 L1450.5 972.9 L1452.5 968.0 L1454.5 963.1 L1456.5 958.1 L1458.5 953.1 L1460.5 948.1 L1462.5 943.1 L1464.5 938.0 L1466.5 932.7 L1468.5 927.3 L1470.5 921.7 L1472.5 916.0 L1474.5 910.0 L1476.5 903.9 L1478.5 897.6 L1480.5 891.2 L1482.5 884.7 L1484.5 878.1 L1486.5 871.4 L1488.5 864.8 L1490.5 858.2 L1492.5 851.6 L1494.5 845.2 L1496.5 839.0 L1498.5 832.8 L1500.5 826.8 L1502.5 821.0 L1504.5 815.3 L1506.5 809.8 L1508.5 804.4 L1510.5 799.3 L1512.5 794.4 L1514.5 789.9 L1516.5 785.7 L1518.5 781.7 L1520.5 778.1 L1522.5 774.8 L1524.5 771.8 L1526.5 769.1 L1528.5 766.7 L1530.5 764.6 L1532.5 762.8 L1534.5 761.2 L1536.5 759.9 L1538.5 758.9 L1540.5 758.1 L1542.5 757.4 L1544.5 757.0 L1546.5 756.6 L1548.5 756.4 L1550.5 756.3 L1552.5 756.3 L1554.5 756.4 L1556.5 756.7 L1558.5 757.0 L1560.5 757.4 L1562.5 758.1 L1564.5 758.9 L1566.5 759.8 L1568.5 760.9 L1570.5 762.2 L1572.5 763.4 L1574.5 764.6 L1576.5 765.8 L1578.5 766.9 L1580.5 767.9 L1582.5 768.9 L1584.5 769.8 L1586.5 770.6 L1588.5 771.3 L1590.5 771.8 L1592.5 772.3 L1594.5 772.7 L1596.5 773.0 L1598.5 773.2 L1600.5 773.4 L1602.5 773.5 L1604.5 773.6 L1606.5 773.7 L1608.5 773.7 L1610.5 773.7 L1612.5 773.7 L1614.5 773.8 L1616.5 773.8 L1618.5 773.8 L1620.5 773.8 L1622.5 773.7 L1624.5 773.7 L1626.5 773.7 L1628.5 773.7 L1630.5 773.6 L1632.5 773.6 L1634.5 773.5 L1636.5 773.5 L1638.5 773.4 L1640.5 773.3 L1642.5 773.3 L1644.5 773.2 L1646.5 773.1 L1648.5 772.9 L1650.5 772.7 L1652.5 772.5 L1654.5 772.3 L1656.5 772.0 L1658.5 771.8 L1660.5 771.4 L1662.5 771.1 L1664.5 770.8 L1666.5 770.5 L1668.5 770.2 L1670.5 770.0 L1672.5 769.9 L1674.5 769.8 L1676.5 769.8 L1678.5 769.8 L1680.5 769.9 L1682.5 769.9 L1684.5 769.9 L1686.5 769.8 L1688.5 769.7 L1690.5 769.5 L1692.5 769.3 L1694.5 769.0 L1696.5 768.6 L1698.5 768.3 L1700.5 767.9 L1702.5 767.5 L1704.5 767.1 L1706.5 766.8 L1708.5 766.5 L1710.5 766.2 L1712.5 766.0 L1714.5 765.8 L1716.5 765.7 L1718.5 765.5 L1720.5 765.4 L1722.5 765.3 L1724.5 765.2 L1726.5 765.1 L1728.5 765.0 L1730.5 765.0 L1732.5 764.9 L1734.5 764.8 L1736.5 764.7 L1738.5 764.6 L1740.5 764.5 L1742.5 764.4 L1744.5 764.3 L1746.5 764.3 L1748.5 764.2 L1750.5 764.1 L1752.5 764.0 L1754.5 763.9 L1756.5 763.9 L1758.5 763.8 L1760.5 763.6 L1762.5 763.5 L1764.5 763.3 L1766.5 763.1 L1768.5 762.8 L1770.5 762.5 L1772.5 762.0 L1774.5 761.4 L1776.5 760.8 L1778.5 760.1 L1780.5 759.3 L1782.5 758.5 L1784.5 757.6 L1786.5 756.6 L1788.5 755.6 L1790.5 754.6 L1792.5 753.7 L1794.5 752.8 L1796.5 752.0 L1798.5 751.3 L1800.5 750.7 L1802.5 750.1 L1804.5 749.6 L1806.5 749.2 L1808.5 748.8 L1810.5 748.4 L1812.5 748.1 L1814.5 747.8 L1816.5 747.5 L1818.5 747.2 L1820.5 746.9 L1822.5 746.6 L1824.5 746.3 L1826.5 746.0 L1828.5 745.6 L1830.5 745.2 L1832.5 744.8 L1834.5 744.2 L1836.5 743.6 L1838.5 742.9 L1840.5 742.0 L1842.5 741.0 L1844.5 739.8 L1846.5 738.5 L1848.5 737.0 L1850.5 735.5 L1852.5 733.7 L1854.5 731.9 L1856.5 729.9 L1858.5 727.7 L1860.5 725.3 L1862.5 722.8 L1864.5 720.1 L1866.5 717.3 L1868.5 714.2 L1870.5 711.0 L1872.5 707.6 L1874.5 704.0 L1876.5 700.3 L1878.5 696.4 L1880.5 692.3 L1882.5 688.1 L1884.5 683.7 L1886.5 679.3 L1888.5 675.0 L1890.5 670.7 L1892.5 666.4 L1894.5 662.4 L1896.5 658.4 L1898.5 654.7 L1900.5 651.1 L1902.5 647.7 L1904.5 644.5 L1906.5 641.6 L1908.5 638.9 L1910.5 636.5 L1912.5 634.2 L1914.5 632.3 L1916.5 630.6 L1918.5 629.2 L1920.5 628.1 L1922.5 627.3 L1924.5 626.7 L1926.5 626.3 L1928.5 626.1 L1930.5 626.0 L1932.5 626.2 L1934.5 626.7 L1936.5 627.3 L1938.5 628.2 L1940.5 629.3 L1942.5 630.6 L1944.5 632.2 L1946.5 634.0 L1948.5 636.1 L1950.5 638.5 L1952.5 641.2 L1954.5 644.1 L1956.5 647.2 L1958.5 650.5 L1960.5 653.8 L1962.5 657.2 L1964.5 660.7 L1966.5 664.2 L1968.5 667.8 L1970.5 671.4 L1972.5 675.0 L1974.5 678.5 L1976.5 682.0 L1978.5 685.3 L1980.5 688.6 L1982.5 691.9 L1984.5 695.0 L1986.5 698.1 L1988.5 701.1 L1990.5 704.1 L1992.5 707.0 L1994.5 709.8 L1996.5 712.6 L1998.5 715.4 L2000.5 718.3 L2002.5 721.2 L2004.5 724.2 L2006.5 727.3 L2008.5 730.4 L2010.5 733.6 L2012.5 736.8 L2014.5 740.0 L2016.5 743.3 L2018.5 746.5 L2020.5 749.7 L2022.5 752.9 L2024.5 756.1 L2026.5 759.3 L2028.5 762.5 L2030.5 765.7 L2032.5 769.0 L2034.5 772.2 L2036.5 775.4 L2038.5 778.6 L2040.5 781.8 L2042.5 784.9 L2044.5 787.9 L2046.5 790.8 L2048.5 793.7 L2050.5 796.6 L2052.5 799.4 L2054.5 802.2 L2056.5 805.0 L2058.5 807.8 L2060.5 810.6 L2062.5 813.4 L2064.5 816.2 L2066.5 819.0 L2068.5 821.7 L2070.5 824.4 L2072.5 827.0 L2074.5 829.6 L2076.5 832.1 L2078.5 834.5 L2080.5 836.9 L2082.5 839.3 L2084.5 841.7 L2086.5 844.1 L2088.5 846.5 L2090.5 849.0 L2092.5 851.4 L2094.5 853.8 L2096.5 856.1 L2098.5 858.3 L2100.5 860.4 L2102.5 862.4 L2104.5 864.4 L2106.5 866.2 L2108.5 868.0 L2110.5 869.7 L2112.5 871.4 L2114.5 873.0 L2116.5 874.6 L2118.5 876.1 L2120.5 877.6 L2122.5 878.9 L2124.5 880.2 L2126.5 881.3 L2128.5 882.3 L2130.5 883.1 L2132.5 883.9 L2134.5 884.6 L2136.5 885.1 L2138.5 885.5 L2140.5 885.8 L2142.5 885.9 L2144.5 886.0 L2146.5 886.0 L2148.5 885.9 L2150.5 885.8 L2152.5 885.6 L2154.5 885.2 L2156.5 884.7 L2158.5 884.0 L2160.5 883.1 L2162.5 882.0 L2164.5 880.8 L2166.5 879.5 L2168.5 878.1 L2170.5 876.7 L2172.5 875.3 L2174.5 873.9 L2176.5 872.5 L2178.5 871.1 L2180.5 869.8 L2182.5 868.5 L2184.5 867.2 L2186.5 866.0 L2188.5 864.9 L2190.5 863.9 L2192.5 863.0 L2194.5 862.3 L2196.5 861.6 L2198.5 861.1 L2200.5 860.8 L2202.5 860.5 L2204.5 860.2 L2206.5 860.1 L2207.6 860.0" stroke="#ff3b3b"/>
<path d="M340.5 1516.5 L342.5 1516.5 L344.5 1516.5 L346.5 1516.5 L348.5 1516.5 L350.5 1516.5 L352.5 1516.5 L354.5 1516.5 L356.5 1516.5 L358.5 1516.5 L360.5 1516.5 L362.5 1516.5 L364.5 1516.5 L366.5 1516.5 L368.5 1516.5 L370.5 1516.5 L372.5 1516.5 L374.5 1516.5 L376.5 1516.5 L378.5 1516.5 L380.5 1516.5 L382.5 1516.5 L384.5 1516.5 L386.5 1516.5 L388.5 1516.5 L390.5 1516.5 L392.5 1516.5 L394.5 1516.5 L396.5 1516.5 L398.5 1516.5 L400.5 1516.5 L402.5 1516.5 L404.5 1516.5 L406.5 1516.5 L408.5 1516.5 L410.5 1516.5 L412.5 1516.5 L414.5 1516.5 L416.5 1516.5 L418.5 1516.5 L420.5 1516.5 L422.5 1516.5 L424.5 1516.5 L426.5 1516.5 L428.5 1516.5 L430.5 1516.5 L432.5 1516.5 L434.5 1516.5 L436.5 1516.5 L438.5 1516.5 L440.5 1516.5 L442.5 1516.5 L444.5 1516.5 L446.5 1516.5 L448.5 1516.5 L450.5 1516.4 L452.5 1516.3 L454.5 1516.1 L456.5 1515.8 L458.5 1515.4 L460.5 1515.0 L462.5 1514.6 L464.5 1514.2 L466.5 1514.0 L468.5 1513.8 L470.5 1513.8 L472.5 1513.7 L474.5 1513.7 L476.5 1513.7 L478.5 1513.7 L480.5 1513.7 L482.5 1513.7 L484.5 1513.7 L486.5 1513.7 L488.5 1513.7 L490.5 1513.7 L492.5 1513.7 L494.5 1513.7 L496.5 1513.7 L498.5 1513.7 L500.5 1513.7 L502.5 1513.7 L504.5 1513.7 L506.5 1513.7 L508.5 1513.7 L510.5 1513.7 L512.5 1513.7 L514.5 1513.7 L516.5 1513.7 L518.5 1513.7 L520.5 1513.7 L522.5 1513.7 L524.5 1513.7 L526.5 1513.7 L528.5 1513.7 L530.5 1513.7 L532.5 1513.7 L534.5 1513.7 L536.5 1513.7 L538.5 1513.7 L540.5 1513.7 L542.5 1513.7 L544.5 1513.7 L546.5 1513.7 L548.5 1513.7 L550.5 1513.7 L552.5 1513.7 L554.5 1513.6 L556.5 1513.5 L558.5 1513.3 L560.5 1512.9 L562.5 1512.5 L564.5 1512.0 L566.5 1511.5 L568.5 1511.1 L570.5 1510.8 L572.5 1510.6 L574.5 1510.4 L576.5 1510.3 L578.5 1510.2 L580.5 1509.9 L582.5 1509.7 L584.5 1509.3 L586.5 1508.9 L588.5 1508.5 L590.5 1508.0 L592.5 1507.5 L594.5 1506.9 L596.5 1506.3 L598.5 1505.8 L600.5 1505.2 L602.5 1504.6 L604.5 1504.1 L606.5 1503.5 L608.5 1503.0 L610.5 1502.5 L612.5 1501.9 L614.5 1501.3 L616.5 1500.8 L618.5 1500.2 L620.5 1499.6 L622.5 1498.9 L624.5 1498.3 L626.5 1497.6 L628.5 1496.9 L630.5 1496.1 L632.5 1495.4 L634.5 1494.6 L636.5 1493.7 L638.5 1492.9 L640.5 1492.0 L642.5 1491.1 L644.5 1490.2 L646.5 1489.2 L648.5 1488.2 L650.5 1487.2 L652.5 1486.1 L654.5 1485.0 L656.5 1483.9 L658.5 1482.8 L660.5 1481.6 L662.5 1480.4 L664.5 1479.1 L666.5 1477.8 L668.5 1476.5 L670.5 1475.1 L672.5 1473.6 L674.5 1472.1 L676.5 1470.5 L678.5 1468.8 L680.5 1467.0 L682.5 1465.2 L684.5 1463.3 L686.5 1461.3 L688.5 1459.4 L690.5 1457.4 L692.5 1455.3 L694.5 1453.2 L696.5 1451.1 L698.5 1449.0 L700.5 1446.8 L702.5 1444.6 L704.5 1442.3 L706.5 1439.9 L708.5 1437.5 L710.5 1435.0 L712.5 1432.3 L714.5 1429.6 L716.5 1426.8 L718.5 1423.8 L720.5 1420.6 L722.5 1417.2 L724.5 1413.5 L726.5 1409.4 L728.5 1404.9 L730.5 1399.9 L732.5 1394.4 L734.5 1388.7 L736.5 1382.9 L738.5 1377.0 L740.5 1371.3 L742.5 1365.7 L744.5 1360.4 L746.5 1355.2 L748.5 1350.2 L750.5 1345.3 L752.5 1340.5 L754.5 1335.7 L756.5 1330.8 L758.5 1325.8 L760.5 1320.8 L762.5 1315.7 L764.5 1310.5 L766.5 1305.3 L768.5 1300.1 L770.5 1294.8 L772.5 1289.6 L774.5 1284.4 L776.5 1279.3 L778.5 1274.3 L780.5 1269.5 L782.5 1265.0 L784.5 1260.6 L786.5 1256.4 L788.5 1252.3 L790.5 1248.2 L792.5 1244.1 L794.5 1240.0 L796.5 1235.8 L798.5 1231.5 L800.5 1227.1 L802.5 1222.4 L804.5 1217.5 L806.5 1212.3 L808.5 1206.8 L810.5 1201.0 L812.5 1194.9 L814.5 1188.6 L816.5 1182.3 L818.5 1176.2 L820.5 1170.3 L822.5 1164.8 L824.5 1159.8 L826.5 1155.3 L828.5 1151.2 L830.5 1147.4 L832.5 1144.1 L834.5 1141.2 L836.5 1138.6 L838.5 1136.3 L840.5 1134.3 L842.5 1132.7 L844.5 1131.2 L846.5 1130.1 L848.5 1129.1 L850.5 1128.3 L852.5 1127.7 L854.5 1127.3 L856.5 1126.9 L858.5 1126.7 L860.5 1126.6 L862.5 1126.7 L864.5 1127.0 L866.5 1127.3 L868.5 1127.9 L870.5 1128.5 L872.5 1129.4 L874.5 1130.4 L876.5 1131.7 L878.5 1133.1 L880.5 1134.7 L882.5 1136.4 L884.5 1138.1 L886.5 1139.8 L888.5 1141.5 L890.5 1143.3 L892.5 1145.2 L894.5 1147.3 L896.5 1149.8 L898.5 1152.5 L900.5 1155.6 L902.5 1158.6 L904.5 1161.4 L906.5 1163.7 L908.5 1165.3 L910.5 1166.4 L912.5 1167.0 L914.5 1167.4 L916.5 1167.6 L918.5 1167.7 L920.5 1167.7 L922.5 1167.7 L924.5 1167.6 L926.5 1167.5 L928.5 1167.3 L930.5 1167.1 L932.5 1166.9 L934.5 1166.6 L936.5 1166.3 L938.5 1165.9 L940.5 1165.5 L942.5 1165.0 L944.5 1164.4 L946.5 1163.9 L948.5 1163.3 L950.5 1162.9 L952.5 1162.5 L954.5 1162.1 L956.5 1161.9 L958.5 1161.7 L960.5 1161.7 L962.5 1161.7 L964.5 1161.8 L966.5 1162.1 L968.5 1162.5 L970.5 1163.1 L972.5 1163.9 L974.5 1164.9 L976.5 1166.0 L978.5 1167.4 L980.5 1169.1 L982.5 1170.9 L984.5 1172.9 L986.5 1175.1 L988.5 1177.4 L990.5 1179.8 L992.5 1182.3 L994.5 1185.0 L996.5 1187.8 L998.5 1190.7 L1000.5 1193.7 L1002.5 1196.8 L1004.5 1199.9 L1006.5 1203.1 L1008.5 1206.4 L1010.5 1209.6 L1012.5 1212.8 L1014.5 1216.0 L1016.5 1219.2 L1018.5 1222.5 L1020.5 1225.9 L1022.5 1229.3 L1024.5 1232.8 L1026.5 1236.3 L1028.5 1239.9 L1030.5 1243.4 L1032.5 1246.9 L1034.5 1250.3 L1036.5 1253.6 L1038.5 1256.9 L1040.5 1260.1 L1042.5 1263.2 L1044.5 1266.2 L1046.5 1269.2 L1048.5 1272.1 L1050.5 1274.9 L1052.5 1277.6 L1054.5 1280.2 L1056.5 1282.6 L1058.5 1284.8 L1060.5 1286.9 L1062.5 1288.8 L1064.5 1290.5 L1066.5 1292.1 L1068.5 1293.6 L1070.5 1294.9 L1072.5 1296.0 L1074.5 1297.0 L1076.5 1297.8 L1078.5 1298.4 L1080.5 1299.0 L1082.5 1299.5 L1084.5 1299.8 L1086.5 1300.1 L1088.5 1300.2 L1090.5 1300.2 L1092.5 1300.2 L1094.5 1300.0 L1096.5 1299.7 L1098.5 1299.4 L1100.5 1299.0 L1102.5 1298.6 L1104.5 1298.1 L1106.5 1297.6 L1108.5 1297.1 L1110.5 1296.7 L1112.5 1296.2 L1114.5 1295.7 L1116.5 1295.2 L1118.5 1294.7 L1120.5 1294.2 L1122.5 1293.6 L1124.5 1293.0 L1126.5 1292.4 L1128.5 1291.8 L1130.5 1291.1 L1132.5 1290.4 L1134.5 1289.7 L1136.5 1288.9 L1138.5 1288.1 L1140.5 1287.2 L1142.5 1286.2 L1144.5 1285.1 L1146.5 1284.0 L1148.5 1282.7 L1150.5 1281.2 L1152.5 1279.4 L1154.5 1277.5 L1156.5 1275.3 L1158.5 1272.9 L1160.5 1270.2 L1162.5 1267.4 L1164.5 1264.4 L1166.5 1261.2 L1168.5 1257.8 L1170.5 1254.2 L1172.5 1250.5 L1174.5 1246.8 L1176.5 1243.0 L1178.5 1239.1 L1180.5 1235.2 L1182.5 1231.0 L1184.5 1226.6 L1186.5 1221.9 L1188.5 1216.8 L1190.5 1211.4 L1192.5 1205.6 L1194.5 1199.5 L1196.5 1193.3 L1198.5 1186.9 L1200.5 1180.4 L1202.5 1173.8 L1204.5 1167.2 L1206.5 1160.7 L1208.5 1154.1 L1210.5 1147.6 L1212.5 1140.9 L1214.5 1134.0 L1216.5 1126.8 L1218.5 1119.4 L1220.5 1112.0 L1222.5 1105.1 L1224.5 1098.8 L1226.5 1093.4 L1228.5 1088.9 L1230.5 1085.2 L1232.5 1082.2 L1234.5 1079.9 L1236.5 1078.2 L1238.5 1076.9 L1240.5 1076.0 L1242.5 1075.3 L1244.5 1074.8 L1246.5 1074.6 L1248.5 1074.7 L1250.5 1075.0 L1252.5 1075.8 L1254.5 1076.8 L1256.5 1078.2 L1258.5 1079.9 L1260.5 1081.9 L1262.5 1084.2 L1264.5 1086.9 L1266.5 1089.9 L1268.5 1093.2 L1270.5 1096.7 L1272.5 1100.5 L1274.5 1104.3 L1276.5 1108.2 L1278.5 1112.2 L1280.5 1116.2 L1282.5 1120.3 L1284.5 1124.3 L1286.5 1128.4 L1288.5 1132.4 L1290.5 1136.4 L1292.5 1140.3 L1294.5 1144.1 L1296.5 1147.7 L1298.5 1151.1 L1300.5 1154.3 L1302.5 1157.3 L1304.5 1160.1 L1306.5 1162.7 L1308.5 1165.1 L1310.5 1167.2 L1312.5 1169.1 L1314.5 1170.6 L1316.5 1171.7 L1318.5 1172.5 L1320.5 1172.9 L1322.5 1173.2 L1324.5 1173.2 L1326.5 1173.0 L1328.5 1172.7 L1330.5 1172.0 L1332.5 1171.1 L1334.5 1169.8 L1336.5 1168.1 L1338.5 1166.1 L1340.5 1163.8 L1342.5 1161.2 L1344.5 1158.3 L1346.5 1155.1 L1348.5 1151.8 L1350.5 1148.3 L1352.5 1144.8 L1354.5 1141.3 L1356.5 1137.7 L1358.5 1134.1 L1360.5 1130.5 L1362.5 1126.8 L1364.5 1123.0 L1366.5 1119.1 L1368.5 1115.2 L1370.5 1111.3 L1372.5 1107.3 L1374.5 1103.3 L1376.5 1099.3 L1378.5 1095.4 L1380.5 1091.6 L1382.5 1087.9 L1384.5 1084.2 L1386.5 1080.6 L1388.5 1077.1 L1390.5 1073.6 L1392.5 1070.2 L1394.5 1066.8 L1396.5 1063.5 L1398.5 1060.3 L1400.5 1057.1 L1402.5 1053.9 L1404.5 1050.7 L1406.5 1047.5 L1408.5 1044.3 L1410.5 1041.1 L1412.5 1037.8 L1414.5 1034.7 L1416.5 1031.5 L1418.5 1028.4 L1420.5 1025.4 L1422.5 1022.5 L1424.5 1019.6 L1426.5 1016.7 L1428.5 1013.9 L1430.5 1011.1 L1432.5 1008.3 L1434.5 1005.5 L1436.5 1002.6 L1438.5 999.7 L1440.5 996.8 L1442.5 993.8 L1444.5 990.8 L1446.5 987.7 L1448.5 984.5 L1450.5 981.2 L1452.5 977.9 L1454.5 974.5 L1456.5 971.0 L1458.5 967.4 L1460.5 963.7 L1462.5 959.8 L1464.5 955.9 L1466.5 951.8 L1468.5 947.5 L1470.5 943.2 L1472.5 938.9 L1474.5 934.7 L1476.5 930.7 L1478.5 926.9 L1480.5 923.4 L1482.5 920.2 L1484.5 917.2 L1486.5 914.2 L1488.5 911.0 L1490.5 907.7 L1492.5 904.2 L1494.5 900.4 L1496.5 896.3 L1498.5 892.1 L1500.5 887.8 L1502.5 883.5 L1504.5 879.2 L1506.5 874.8 L1508.5 870.5 L1510.5 866.3 L1512.5 862.0 L1514.5 857.8 L1516.5 853.6 L1518.5 849.6 L1520.5 845.7 L1522.5 842.0 L1524.5 838.5 L1526.5 835.2 L1528.5 832.1 L1530.5 829.2 L1532.5 826.4 L1534.5 823.9 L1536.5 821.5 L1538.5 819.2 L1540.5 817.1 L1542.5 815.1 L1544.5 813.2 L1546.5 811.4 L1548.5 809.7 L1550.5 808.0 L1552.5 806.5 L1554.5 805.1 L1556.5 803.9 L1558.5 802.9 L1560.5 802.1 L1562.5 801.5 L1564.5 801.0 L1566.5 800.5 L1568.5 800.2 L1570.5 800.0 L1572.5 799.8 L1574.5 799.7 L1576.5 799.7 L1578.5 799.7 L1580.5 799.8 L1582.5 799.9 L1584.5 800.1 L1586.5 800.5 L1588.5 800.9 L1590.5 801.4 L1592.5 802.1 L1594.5 803.0 L1596.5 804.0 L1598.5 805.1 L1600.5 806.3 L1602.5 807.8 L1604.5 809.3 L1606.5 811.0 L1608.5 812.9 L1610.5 814.8 L1612.5 816.7 L1614.5 818.7 L1616.5 820.6 L1618.5 822.6 L1620.5 824.6 L1622.5 826.7 L1624.5 828.7 L1626.5 830.7 L1628.5 832.8 L1630.5 834.9 L1632.5 836.9 L1634.5 839.0 L1636.5 840.9 L1638.5 842.8 L1640.5 844.5 L1642.5 846.2 L1644.5 847.6 L1646.5 849.0 L1648.5 850.2 L1650.5 851.2 L1652.5 852.1 L1654.5 852.8 L1656.5 853.3 L1658.5 853.7 L1660.5 853.9 L1662.5 854.1 L1664.5 854.3 L1666.5 854.3 L1668.5 854.3 L1670.5 854.1 L1672.5 853.8 L1674.5 853.4 L1676.5 852.8 L1678.5 852.2 L1680.5 851.4 L1682.5 850.5 L1684.5 849.4 L1686.5 848.3 L1688.5 846.9 L1690.5 845.4 L1692.5 843.7 L1694.5 841.9 L1696.5 839.8 L1698.5 837.5 L1700.5 835.0 L1702.5 832.3 L1704.5 829.3 L1706.5 826.1 L1708.5 822.8 L1710.5 819.4 L1712.5 815.9 L1714.5 812.4 L1716.5 808.8 L1718.5 805.2 L1720.5 801.6 L1722.5 798.0 L1724.5 794.3 L1726.5 790.6 L1728.5 786.9 L1730.5 783.2 L1732.5 779.5 L1734.5 775.9 L1736.5 772.4 L1738.5 769.1 L1740.5 766.0 L1742.5 763.2 L1744.5 760.6 L1746.5 758.3 L1748.5 756.5 L1750.5 755.1 L1752.5 754.2 L1754.5 753.6 L1756.5 753.3 L1758.5 753.1 L1760.5 753.1 L1762.5 753.1 L1764.5 753.3 L1766.5 753.5 L1768.5 753.9 L1770.5 754.3 L1772.5 755.0 L1774.5 755.7 L1776.5 756.7 L1778.5 757.8 L1780.5 759.1 L1782.5 760.4 L1784.5 761.8 L1786.5 763.3 L1788.5 764.6 L1790.5 765.9 L1792.5 767.1 L1794.5 768.2 L1796.5 769.3 L1798.5 770.4 L1800.5 771.4 L1802.5 772.3 L1804.5 773.3 L1806.5 774.2 L1808.5 775.1 L1810.5 775.9 L1812.5 776.7 L1814.5 777.5 L1816.5 778.3 L1818.5 779.2 L1820.5 780.1 L1822.5 781.0 L1824.5 782.1 L1826.5 783.3 L1828.5 784.6 L1830.5 785.9 L1832.5 787.4 L1834.5 788.9 L1836.5 790.4 L1838.5 791.9 L1840.5 793.4 L1842.5 795.0 L1844.5 796.6 L1846.5 798.2 L1848.5 799.9 L1850.5 801.7 L1852.5 803.5 L1854.5 805.4 L1856.5 807.3 L1858.5 809.3 L1860.5 811.4 L1862.5 813.4 L1864.5 815.5 L1866.5 817.5 L1868.5 819.6 L1870.5 821.7 L1872.5 823.7 L1874.5 825.6 L1876.5 827.4 L1878.5 829.2 L1880.5 830.8 L1882.5 832.4 L1884.5 833.8 L1886.5 835.1 L1888.5 836.2 L1890.5 837.2 L1892.5 838.0 L1894.5 838.6 L1896.5 839.1 L1898.5 839.6 L1900.5 839.9 L1902.5 840.1 L1904.5 840.3 L1906.5 840.3 L1908.5 840.3 L1910.5 840.2 L1912.5 840.1 L1914.5 839.8 L1916.5 839.5 L1918.5 839.2 L1920.5 838.7 L1922.5 838.1 L1924.5 837.4 L1926.5 836.6 L1928.5 835.8 L1930.5 835.1 L1932.5 834.4 L1934.5 833.8 L1936.5 833.3 L1938.5 832.9 L1940.5 832.5 L1942.5 832.3 L1944.5 832.1 L1946.5 832.0 L1948.5 832.0 L1950.5 832.2 L1952.5 832.4 L1954.5 832.8 L1956.5 833.2 L1958.5 833.8 L1960.5 834.4 L1962.5 835.1 L1964.5 835.9 L1966.5 836.9 L1968.5 837.9 L1970.5 839.0 L1972.5 840.3 L1974.5 841.6 L1976.5 842.9 L1978.5 844.4 L1980.5 845.9 L1982.5 847.5 L1984.5 849.1 L1986.5 850.8 L1988.5 852.5 L1990.5 854.2 L1992.5 855.9 L1994.5 857.7 L1996.5 859.5 L1998.5 861.3 L2000.5 863.2 L2002.5 865.1 L2004.5 867.0 L2006.5 868.9 L2008.5 870.9 L2010.5 872.9 L2012.5 874.9 L2014.5 877.0 L2016.5 879.1 L2018.5 881.1 L2020.5 883.2 L2022.5 885.3 L2024.5 887.3 L2026.5 889.2 L2028.5 891.0 L2030.5 892.6 L2032.5 894.1 L2034.5 895.4 L2036.5 896.6 L2038.5 897.6 L2040.5 898.5 L2042.5 899.1 L2044.5 899.6 L2046.5 899.9 L2048.5 900.1 L2050.5 900.3 L2052.5 900.4 L2054.5 900.5 L2056.5 900.6 L2058.5 900.6 L2060.5 900.7 L2062.5 900.7 L2064.5 900.7 L2066.5 900.8 L2068.5 900.8 L2070.5 900.8 L2072.5 900.8 L2074.5 900.8 L2076.5 900.8 L2078.5 900.8 L2080.5 900.8 L2082.5 900.8 L2084.5 900.8 L2086.5 900.8 L2088.5 900.8 L2090.5 900.8 L2092.5 900.8 L2094.5 900.8 L2096.5 900.8 L2098.5 900.8 L2100.5 900.8 L2102.5 900.8 L2104.5 900.9 L2106.5 900.9 L2108.5 900.9 L2110.5 900.9 L2112.5 901.0 L2114.5 901.0 L2116.5 901.0 L2118.5 901.1 L2120.5 901.2 L2122.5 901.2 L2124.5 901.4 L2126.5 901.5 L2128.5 901.8 L2130.5 902.1 L2132.5 902.6 L2134.5 903.2 L2136.5 903.8 L2138.5 904.6 L2140.5 905.3 L2142.5 906.2 L2144.5 907.0 L2146.5 908.0 L2148.5 909.0 L2150.5 910.0 L2152.5 911.1 L2154.5 912.3 L2156.5 913.5 L2158.5 914.8 L2160.5 916.1 L2162.5 917.5 L2164.5 919.0 L2166.5 920.4 L2168.5 922.0 L2170.5 923.6 L2172.5 925.2 L2174.5 926.8 L2176.5 928.4 L2178.5 929.9 L2180.5 931.4 L2182.5 932.6 L2184.5 933.8 L2186.5 934.8 L2188.5 935.6 L2190.5 936.2 L2192.4 936.7" stroke="#0070e0"/>
<path d="M340.5 1515.7 L342.5 1515.0 L344.5 1514.2 L346.5 1513.1 L348.5 1511.7 L350.5 1510.2 L352.5 1508.5 L354.5 1506.7 L356.5 1504.7 L358.5 1502.5 L360.5 1500.1 L362.5 1497.5 L364.5 1494.7 L366.5 1491.8 L368.5 1488.6 L370.5 1485.4 L372.5 1482.0 L374.5 1478.6 L376.5 1475.1 L378.5 1471.4 L380.5 1467.7 L382.5 1464.0 L384.5 1460.3 L386.5 1456.6 L388.5 1453.1 L390.5 1449.7 L392.5 1446.5 L394.5 1443.5 L396.5 1440.5 L398.5 1437.7 L400.5 1435.0 L402.5 1432.5 L404.5 1430.0 L406.5 1427.7 L408.5 1425.6 L410.5 1423.7 L412.5 1421.9 L414.5 1420.4 L416.5 1419.0 L418.5 1417.8 L420.5 1416.7 L422.5 1415.8 L424.5 1415.0 L426.5 1414.3 L428.5 1413.7 L430.5 1413.2 L432.5 1412.9 L434.5 1412.8 L436.5 1412.9 L438.5 1413.2 L440.5 1413.7 L442.5 1414.3 L444.5 1415.0 L446.5 1415.8 L448.5 1416.5 L450.5 1417.3 L452.5 1418.1 L454.5 1418.9 L456.5 1419.7 L458.5 1420.5 L460.5 1421.4 L462.5 1422.4 L464.5 1423.5 L466.5 1424.7 L468.5 1426.0 L470.5 1427.4 L472.5 1428.8 L474.5 1430.4 L476.5 1432.0 L478.5 1433.6 L480.5 1435.4 L482.5 1437.2 L484.5 1439.0 L486.5 1440.9 L488.5 1442.9 L490.5 1445.0 L492.5 1447.1 L494.5 1449.3 L496.5 1451.5 L498.5 1453.9 L500.5 1456.4 L502.5 1458.9 L504.5 1461.5 L506.5 1464.0 L508.5 1466.4 L510.5 1468.6 L512.5 1470.5 L514.5 1472.3 L516.5 1473.8 L518.5 1475.3 L520.5 1476.8 L522.5 1478.2 L524.5 1479.6 L526.5 1481.0 L528.5 1482.3 L530.5 1483.5 L532.5 1484.6 L534.5 1485.6 L536.5 1486.5 L538.5 1487.4 L540.5 1488.2 L542.5 1489.2 L544.5 1490.1 L546.5 1491.1 L548.5 1492.1 L550.5 1493.0 L552.5 1493.8 L554.5 1494.5 L556.5 1495.0 L558.5 1495.4 L560.5 1495.6 L562.5 1495.7 L564.5 1495.7 L566.5 1495.6 L568.5 1495.5 L570.5 1495.3 L572.5 1495.1 L574.5 1494.9 L576.5 1494.8 L578.5 1494.7 L580.5 1494.6 L582.5 1494.5 L584.5 1494.5 L586.5 1494.5 L588.5 1494.6 L590.5 1494.7 L592.5 1494.8 L594.5 1494.9 L596.5 1495.0 L598.5 1495.1 L600.5 1495.2 L602.5 1495.4 L604.5 1495.4 L606.5 1495.5 L608.5 1495.6 L610.5 1495.7 L612.5 1495.7 L614.5 1495.8 L616.5 1495.8 L618.5 1495.9 L620.5 1495.9 L622.5 1495.9 L624.5 1496.0 L626.5 1496.0 L628.5 1496.0 L630.5 1496.0 L632.5 1496.0 L634.5 1496.0 L636.5 1495.9 L638.5 1495.9 L640.5 1495.9 L642.5 1495.8 L644.5 1495.8 L646.5 1495.7 L648.5 1495.6 L650.5 1495.6 L652.5 1495.4 L654.5 1495.3 L656.5 1495.1 L658.5 1494.8 L660.5 1494.5 L662.5 1494.2 L664.5 1493.8 L666.5 1493.3 L668.5 1492.8 L670.5 1492.2 L672.5 1491.6 L674.5 1490.9 L676.5 1490.1 L678.5 1489.1 L680.5 1487.9 L682.5 1486.6 L684.5 1485.2 L686.5 1483.6 L688.5 1482.0 L690.5 1480.3 L692.5 1478.6 L694.5 1476.9 L696.5 1475.3 L698.5 1473.7 L700.5 1472.1 L702.5 1470.6 L704.5 1469.1 L706.5 1467.6 L708.5 1466.1 L710.5 1464.6 L712.5 1463.1 L714.5 1461.5 L716.5 1459.9 L718.5 1458.2 L720.5 1456.5 L722.5 1454.7 L724.5 1452.8 L726.5 1450.9 L728.5 1448.8 L730.5 1446.8 L732.5 1444.6 L734.5 1442.5 L736.5 1440.3 L738.5 1438.1 L740.5 1435.9 L742.5 1433.6 L744.5 1431.4 L746.5 1429.1 L748.5 1426.9 L750.5 1424.6 L752.5 1422.3 L754.5 1420.0 L756.5 1417.8 L758.5 1415.5 L760.5 1413.3 L762.5 1411.2 L764.5 1409.0 L766.5 1406.9 L768.5 1404.8 L770.5 1402.8 L772.5 1400.7 L774.5 1398.7 L776.5 1396.7 L778.5 1394.6 L780.5 1392.6 L782.5 1390.5 L784.5 1388.4 L786.5 1386.3 L788.5 1384.1 L790.5 1382.0 L792.5 1379.8 L794.5 1377.6 L796.5 1375.4 L798.5 1373.2 L800.5 1371.0 L802.5 1368.8 L804.5 1366.7 L806.5 1364.5 L808.5 1362.3 L810.5 1360.1 L812.5 1357.9 L814.5 1355.7 L816.5 1353.6 L818.5 1351.4 L820.5 1349.2 L822.5 1347.1 L824.5 1344.9 L826.5 1342.8 L828.5 1340.6 L830.5 1338.5 L832.5 1336.4 L834.5 1334.3 L836.5 1332.2 L838.5 1330.1 L840.5 1328.0 L842.5 1325.9 L844.5 1323.9 L846.5 1321.8 L848.5 1319.8 L850.5 1317.8 L852.5 1315.8 L854.5 1313.8 L856.5 1311.9 L858.5 1310.0 L860.5 1308.1 L862.5 1306.2 L864.5 1304.4 L866.5 1302.5 L868.5 1300.7 L870.5 1298.9 L872.5 1297.2 L874.5 1295.5 L876.5 1293.9 L878.5 1292.4 L880.5 1290.9 L882.5 1289.6 L884.5 1288.3 L886.5 1287.0 L888.5 1285.8 L890.5 1284.7 L892.5 1283.6 L894.5 1282.6 L896.5 1281.6 L898.5 1280.6 L900.5 1279.8 L902.5 1279.0 L904.5 1278.3 L906.5 1277.6 L908.5 1277.0 L910.5 1276.5 L912.5 1276.0 L914.5 1275.5 L916.5 1275.1 L918.5 1274.7 L920.5 1274.2 L922.5 1273.8 L924.5 1273.3 L926.5 1272.8 L928.5 1272.3 L930.5 1271.7 L932.5 1271.1 L934.5 1270.5 L936.5 1269.8 L938.5 1269.1 L940.5 1268.3 L942.5 1267.6 L944.5 1266.8 L946.5 1266.0 L948.5 1265.2 L950.5 1264.4 L952.5 1263.6 L954.5 1262.8 L956.5 1262.0 L958.5 1261.2 L960.5 1260.4 L962.5 1259.5 L964.5 1258.7 L966.5 1257.8 L968.5 1256.9 L970.5 1256.0 L972.5 1255.0 L974.5 1254.0 L976.5 1252.9 L978.5 1251.7 L980.5 1250.4 L982.5 1249.1 L984.5 1247.7 L986.5 1246.3 L988.5 1244.9 L990.5 1243.6 L992.5 1242.4 L994.5 1241.3 L996.5 1240.3 L998.5 1239.5 L1000.5 1238.7 L1002.5 1238.1 L1004.5 1237.5 L1006.5 1236.9 L1008.5 1236.4 L1010.5 1236.0 L1012.5 1235.6 L1014.5 1235.2 L1016.5 1234.9 L1018.5 1234.7 L1020.5 1234.6 L1022.5 1234.6 L1024.5 1234.7 L1026.5 1235.0 L1028.5 1235.4 L1030.5 1235.9 L1032.5 1236.6 L1034.5 1237.3 L1036.5 1238.2 L1038.5 1239.1 L1040.5 1240.0 L1042.5 1241.0 L1044.5 1242.1 L1046.5 1243.2 L1048.5 1244.3 L1050.5 1245.5 L1052.5 1246.9 L1054.5 1248.2 L1056.5 1249.7 L1058.5 1251.3 L1060.5 1252.9 L1062.5 1254.7 L1064.5 1256.5 L1066.5 1258.4 L1068.5 1260.4 L1070.5 1262.3 L1072.5 1264.3 L1074.5 1266.2 L1076.5 1268.0 L1078.5 1269.8 L1080.5 1271.5 L1082.5 1273.1 L1084.5 1274.7 L1086.5 1276.2 L1088.5 1277.6 L1090.5 1278.9 L1092.5 1280.2 L1094.5 1281.4 L1096.5 1282.4 L1098.5 1283.3 L1100.5 1284.1 L1102.5 1284.8 L1104.5 1285.3 L1106.5 1285.7 L1108.5 1286.0 L1110.5 1286.2 L1112.5 1286.4 L1114.5 1286.4 L1116.5 1286.4 L1118.5 1286.2 L1120.5 1285.9 L1122.5 1285.4 L1124.5 1284.9 L1126.5 1284.2 L1128.5 1283.5 L1130.5 1282.7 L1132.5 1282.0 L1134.5 1281.2 L1136.5 1280.4 L1138.5 1279.6 L1140.5 1278.8 L1142.5 1278.0 L1144.5 1277.2 L1146.5 1276.4 L1148.5 1275.6 L1150.5 1274.8 L1152.5 1274.0 L1154.5 1273.2 L1156.5 1272.3 L1158.5 1271.5 L1160.5 1270.6 L1162.5 1269.7 L1164.5 1268.7 L1166.5 1267.7 L1168.5 1266.6 L1170.5 1265.5 L1172.5 1264.3 L1174.5 1263.0 L1176.5 1261.6 L1178.5 1260.1 L1180.5 1258.4 L1182.5 1256.7 L1184.5 1254.9 L1186.5 1252.9 L1188.5 1250.8 L1190.5 1248.6 L1192.5 1246.2 L1194.5 1243.8 L1196.5 1241.4 L1198.5 1238.9 L1200.5 1236.4 L1202.5 1233.9 L1204.5 1231.4 L1206.5 1229.0 L1208.5 1226.6 L1210.5 1224.3 L1212.5 1222.1 L1214.5 1220.0 L1216.5 1218.0 L1218.5 1216.2 L1220.5 1214.5 L1222.5 1212.9 L1224.5 1211.6 L1226.5 1210.4 L1228.5 1209.4 L1230.5 1208.6 L1232.5 1208.0 L1234.5 1207.5 L1236.5 1207.3 L1238.5 1207.2 L1240.5 1207.4 L1242.5 1207.8 L1244.5 1208.5 L1246.5 1209.3 L1248.5 1210.4 L1250.5 1211.6 L1252.5 1213.0 L1254.5 1214.6 L1256.5 1216.3 L1258.5 1218.2 L1260.5 1220.1 L1262.5 1222.0 L1264.5 1224.0 L1266.5 1226.0 L1268.5 1228.0 L1270.5 1229.9 L1272.5 1231.9 L1274.5 1233.7 L1276.5 1235.6 L1278.5 1237.3 L1280.5 1238.9 L1282.5 1240.4 L1284.5 1241.8 L1286.5 1243.0 L1288.5 1244.2 L1290.5 1245.2 L1292.5 1246.1 L1294.5 1247.0 L1296.5 1247.7 L1298.5 1248.4 L1300.5 1248.9 L1302.5 1249.4 L1304.5 1249.8 L1306.5 1250.2 L1308.5 1250.4 L1310.5 1250.5 L1312.5 1250.5 L1314.5 1250.5 L1316.5 1250.3 L1318.5 1250.1 L1320.5 1249.8 L1322.5 1249.5 L1324.5 1249.1 L1326.5 1248.6 L1328.5 1248.0 L1330.5 1247.3 L1332.5 1246.4 L1334.5 1245.2 L1336.5 1243.8 L1338.5 1242.1 L1340.5 1240.3 L1342.5 1238.3 L1344.5 1236.2 L1346.5 1234.0 L1348.5 1231.6 L1350.5 1229.2 L1352.5 1226.6 L1354.5 1223.9 L1356.5 1221.1 L1358.5 1218.1 L1360.5 1215.0 L1362.5 1211.8 L1364.5 1208.6 L1366.5 1205.3 L1368.5 1201.9 L1370.5 1198.4 L1372.5 1194.8 L1374.5 1191.1 L1376.5 1187.3 L1378.5 1183.4 L1380.5 1179.4 L1382.5 1175.3 L1384.5 1171.1 L1386.5 1166.9 L1388.5 1162.6 L1390.5 1158.5 L1392.5 1154.4 L1394.5 1150.4 L1396.5 1146.6 L1398.5 1142.8 L1400.5 1139.1 L1402.5 1135.5 L1404.5 1131.8 L1406.5 1128.2 L1408.5 1124.5 L1410.5 1120.8 L1412.5 1117.0 L1414.5 1113.3 L1416.5 1109.5 L1418.5 1105.6 L1420.5 1101.8 L1422.5 1098.0 L1424.5 1094.2 L1426.5 1090.4 L1428.5 1086.7 L1430.5 1083.0 L1432.5 1079.4 L1434.5 1075.9 L1436.5 1072.6 L1438.5 1069.5 L1440.5 1066.4 L1442.5 1063.5 L1444.5 1060.7 L1446.5 1057.8 L1448.5 1055.0 L1450.5 1052.2 L1452.5 1049.4 L1454.5 1046.6 L1456.5 1043.9 L1458.5 1041.3 L1460.5 1038.8 L1462.5 1036.4 L1464.5 1034.2 L1466.5 1032.1 L1468.5 1030.0 L1470.5 1028.1 L1472.5 1026.3 L1474.5 1024.6 L1476.5 1023.0 L1478.5 1021.5 L1480.5 1020.0 L1482.5 1018.7 L1484.5 1017.3 L1486.5 1016.0 L1488.5 1014.7 L1490.5 1013.4 L1492.5 1012.1 L1494.5 1010.7 L1496.5 1009.4 L1498.5 1008.0 L1500.5 1006.5 L1502.5 1005.0 L1504.5 1003.4 L1506.5 1001.6 L1508.5 999.8 L1510.5 998.0 L1512.5 996.2 L1514.5 994.4 L1516.5 992.6 L1518.5 990.9 L1520.5 989.3 L1522.5 987.8 L1524.5 986.3 L1526.5 984.9 L1528.5 983.5 L1530.5 982.2 L1532.5 981.0 L1534.5 979.7 L1536.5 978.6 L1538.5 977.5 L1540.5 976.4 L1542.5 975.5 L1544.5 974.6 L1546.5 973.8 L1548.5 973.1 L1550.5 972.4 L1552.5 971.8 L1554.5 971.2 L1556.5 970.7 L1558.5 970.2 L1560.5 969.7 L1562.5 969.2 L1564.5 968.8 L1566.5 968.4 L1568.5 968.0 L1570.5 967.7 L1572.5 967.5 L1574.5 967.4 L1576.5 967.3 L1578.5 967.2 L1580.5 967.1 L1582.5 967.1 L1584.5 967.1 L1586.5 967.0 L1588.5 967.0 L1590.5 967.0 L1592.5 966.9 L1594.5 966.9 L1596.5 966.9 L1598.5 966.8 L1600.5 966.8 L1602.5 966.8 L1604.5 966.7 L1606.5 966.7 L1608.5 966.7 L1610.5 966.6 L1612.5 966.6 L1614.5 966.6 L1616.5 966.5 L1618.5 966.5 L1620.5 966.4 L1622.5 966.4 L1624.5 966.3 L1626.5 966.3 L1628.5 966.2 L1630.5 966.1 L1632.5 966.0 L1634.5 965.9 L1636.5 965.8 L1638.5 965.6 L1640.5 965.5 L1642.5 965.3 L1644.5 965.1 L1646.5 964.9 L1648.5 964.7 L1650.5 964.5 L1652.5 964.3 L1654.5 964.1 L1656.5 963.9 L1658.5 963.7 L1660.5 963.5 L1662.5 963.2 L1664.5 963.0 L1666.5 962.7 L1668.5 962.4 L1670.5 962.1 L1672.5 961.8 L1674.5 961.5 L1676.5 961.1 L1678.5 960.7 L1680.5 960.2 L1682.5 959.7 L1684.5 959.1 L1686.5 958.5 L1688.5 957.7 L1690.5 956.8 L1692.5 955.9 L1694.5 954.8 L1696.5 953.7 L1698.5 952.6 L1700.5 951.3 L1702.5 950.0 L1704.5 948.7 L1706.5 947.3 L1708.5 945.9 L1710.5 944.4 L1712.5 942.9 L1714.5 941.5 L1716.5 940.0 L1718.5 938.6 L1720.5 937.2 L1722.5 935.8 L1724.5 934.6 L1726.5 933.4 L1728.5 932.3 L1730.5 931.3 L1732.5 930.4 L1734.5 929.6 L1736.5 928.9 L1738.5 928.4 L1740.5 927.9 L1742.5 927.7 L1744.5 927.5 L1746.5 927.4 L1748.5 927.4 L1750.5 927.5 L1752.5 927.7 L1754.5 928.1 L1756.5 928.7 L1758.5 929.4 L1760.5 930.3 L1762.5 931.2 L1764.5 932.2 L1766.5 933.3 L1768.5 934.4 L1770.5 935.5 L1772.5 936.6 L1774.5 937.6 L1776.5 938.6 L1778.5 939.4 L1780.5 940.2 L1782.5 941.0 L1784.5 941.6 L1786.5 942.2 L1788.5 942.8 L1790.5 943.3 L1792.5 943.6 L1794.5 943.9 L1796.5 944.2 L1798.5 944.3 L1800.5 944.5 L1802.5 944.6 L1804.5 944.6 L1806.5 944.6 L1808.5 944.6 L1810.5 944.5 L1812.5 944.3 L1814.5 944.0 L1816.5 943.6 L1818.5 943.2 L1820.5 942.7 L1822.5 942.2 L1824.5 941.6 L1826.5 941.0 L1828.5 940.4 L1830.5 939.7 L1832.5 939.0 L1834.5 938.2 L1836.5 937.3 L1838.5 936.4 L1840.5 935.3 L1842.5 934.2 L1844.5 933.0 L1846.5 931.8 L1848.5 930.5 L1850.5 929.2 L1852.5 927.9 L1854.5 926.7 L1856.5 925.4 L1858.5 924.2 L1860.5 923.1 L1862.5 922.1 L1864.5 921.2 L1866.5 920.5 L1868.5 919.8 L1870.5 919.3 L1872.5 918.9 L1874.5 918.6 L1876.5 918.4 L1878.5 918.3 L1880.5 918.3 L1882.5 918.4 L1884.5 918.7 L1886.5 919.0 L1888.5 919.5 L1890.5 920.2 L1892.5 921.1 L1894.5 922.1 L1896.5 923.4 L1898.5 924.8 L1900.5 926.3 L1902.5 928.0 L1904.5 929.7 L1906.5 931.6 L1908.5 933.6 L1910.5 935.8 L1912.5 938.3 L1914.5 941.0 L1916.5 943.9 L1918.5 947.2 L1920.5 950.6 L1922.5 954.2 L1924.5 957.8 L1926.5 961.3 L1928.5 964.7 L1930.5 967.9 L1932.5 971.0 L1934.5 973.9 L1936.5 976.7 L1938.5 979.4 L1940.5 982.1 L1942.5 984.7 L1944.5 987.2 L1946.5 989.7 L1948.5 992.2 L1950.5 994.5 L1952.5 996.9 L1954.5 999.1 L1956.5 1001.4 L1958.5 1003.5 L1960.5 1005.6 L1962.5 1007.7 L1964.5 1009.6 L1966.5 1011.5 L1968.5 1013.4 L1970.5 1015.1 L1972.5 1016.8 L1974.5 1018.5 L1976.5 1020.1 L1978.5 1021.7 L1980.5 1023.4 L1982.5 1025.2 L1984.5 1027.1 L1986.5 1029.1 L1988.5 1031.2 L1990.5 1033.5 L1992.5 1035.7 L1994.5 1038.0 L1996.5 1040.2 L1998.5 1042.3 L2000.5 1044.3 L2002.5 1046.1 L2004.5 1047.8 L2006.5 1049.4 L2008.5 1050.9 L2010.5 1052.3 L2012.5 1053.7 L2014.5 1055.1 L2016.5 1056.4 L2018.5 1057.7 L2020.5 1059.0 L2022.5 1060.3 L2024.5 1061.5 L2026.5 1062.8 L2028.5 1064.0 L2030.5 1065.2 L2032.5 1066.4 L2034.5 1067.6 L2036.5 1068.8 L2038.5 1070.0 L2040.5 1071.2 L2042.5 1072.4 L2044.5 1073.6 L2046.5 1074.7 L2048.5 1075.9 L2050.5 1077.1 L2052.5 1078.3 L2054.5 1079.5 L2056.5 1080.7 L2058.5 1081.9 L2060.5 1083.1 L2062.5 1084.3 L2064.5 1085.5 L2066.5 1086.7 L2068.5 1087.9 L2070.5 1089.1 L2072.5 1090.3 L2074.5 1091.5 L2076.5 1092.7 L2078.5 1094.0 L2080.5 1095.2 L2082.5 1096.4 L2084.5 1097.6 L2086.5 1098.7 L2088.5 1099.9 L2090.5 1101.1 L2092.5 1102.3 L2094.5 1103.5 L2096.5 1104.6 L2098.5 1105.8 L2100.5 1106.9 L2102.5 1107.9 L2104.5 1108.8 L2106.5 1109.5" stroke="#00b068"/>
<path d="M340.5 1515.9 L342.5 1515.5 L344.5 1515.0 L346.5 1514.2 L348.5 1513.4 L350.5 1512.5 L352.5 1511.4 L354.5 1510.3 L356.5 1509.1 L358.5 1507.8 L360.5 1506.4 L362.5 1504.9 L364.5 1503.3 L366.5 1501.5 L368.5 1499.7 L370.5 1497.8 L372.5 1495.9 L374.5 1494.0 L376.5 1492.0 L378.5 1490.2 L380.5 1488.4 L382.5 1486.7 L384.5 1485.1 L386.5 1483.5 L388.5 1482.0 L390.5 1480.7 L392.5 1479.3 L394.5 1478.1 L396.5 1477.0 L398.5 1475.9 L400.5 1474.9 L402.5 1474.0 L404.5 1473.2 L406.5 1472.5 L408.5 1471.9 L410.5 1471.4 L412.5 1471.0 L414.5 1470.8 L416.5 1470.7 L418.5 1470.8 L420.5 1471.0 L422.5 1471.3 L424.5 1471.7 L426.5 1472.0 L428.5 1472.5 L430.5 1472.9 L432.5 1473.3 L434.5 1473.7 L436.5 1474.1 L438.5 1474.6 L440.5 1475.1 L442.5 1475.6 L444.5 1476.1 L446.5 1476.7 L448.5 1477.3 L450.5 1477.9 L452.5 1478.6 L454.5 1479.2 L456.5 1479.8 L458.5 1480.4 L460.5 1481.0 L462.5 1481.5 L464.5 1482.0 L466.5 1482.4 L468.5 1482.8 L470.5 1483.2 L472.5 1483.6 L474.5 1484.0 L476.5 1484.3 L478.5 1484.7 L480.5 1485.0 L482.5 1485.3 L484.5 1485.6 L486.5 1485.9 L488.5 1486.2 L490.5 1486.5 L492.5 1486.8 L494.5 1487.0 L496.5 1487.3 L498.5 1487.5 L500.5 1487.7 L502.5 1487.9 L504.5 1488.1 L506.5 1488.3 L508.5 1488.5 L510.5 1488.7 L512.5 1488.9 L514.5 1489.1 L516.5 1489.2 L518.5 1489.4 L520.5 1489.5 L522.5 1489.7 L524.5 1489.8 L526.5 1489.9 L528.5 1490.0 L530.5 1490.1 L532.5 1490.1 L534.5 1490.2 L536.5 1490.2 L538.5 1490.2 L540.5 1490.2 L542.5 1490.1 L544.5 1490.0 L546.5 1489.9 L548.5 1489.8 L550.5 1489.7 L552.5 1489.5 L554.5 1489.4 L556.5 1489.2 L558.5 1489.0 L560.5 1488.9 L562.5 1488.7 L564.5 1488.5 L566.5 1488.3 L568.5 1488.0 L570.5 1487.8 L572.5 1487.6 L574.5 1487.4 L576.5 1487.1 L578.5 1486.9 L580.5 1486.7 L582.5 1486.5 L584.5 1486.3 L586.5 1486.2 L588.5 1486.2 L590.5 1486.1 L592.5 1486.0 L594.5 1486.0 L596.5 1486.0 L598.5 1485.9 L600.5 1485.9 L602.5 1485.9 L604.5 1485.9 L606.5 1486.0 L608.5 1486.1 L610.5 1486.2 L612.5 1486.4 L614.5 1486.6 L616.5 1486.8 L618.5 1487.1 L620.5 1487.4 L622.5 1487.7 L624.5 1488.0 L626.5 1488.2 L628.5 1488.5 L630.5 1488.8 L632.5 1489.0 L634.5 1489.3 L636.5 1489.5 L638.5 1489.8 L640.5 1490.0 L642.5 1490.2 L644.5 1490.4 L646.5 1490.6 L648.5 1490.7 L650.5 1490.8 L652.5 1490.8 L654.5 1490.8 L656.5 1490.8 L658.5 1490.7 L660.5 1490.6 L662.5 1490.4 L664.5 1490.3 L666.5 1490.1 L668.5 1489.9 L670.5 1489.6 L672.5 1489.4 L674.5 1489.0 L676.5 1488.7 L678.5 1488.2 L680.5 1487.6 L682.5 1486.9 L684.5 1486.2 L686.5 1485.4 L688.5 1484.4 L690.5 1483.5 L692.5 1482.5 L694.5 1481.4 L696.5 1480.3 L698.5 1479.2 L700.5 1478.1 L702.5 1476.9 L704.5 1475.6 L706.5 1474.3 L708.5 1472.9 L710.5 1471.4 L712.5 1470.0 L714.5 1468.5 L716.5 1467.0 L718.5 1465.5 L720.5 1464.0 L722.5 1462.5 L724.5 1460.9 L726.5 1459.4 L728.5 1457.8 L730.5 1456.3 L732.5 1454.7 L734.5 1453.1 L736.5 1451.5 L738.5 1449.8 L740.5 1448.2 L742.5 1446.5 L744.5 1444.7 L746.5 1443.0 L748.5 1441.2 L750.5 1439.3 L752.5 1437.5 L754.5 1435.6 L756.5 1433.7 L758.5 1431.7 L760.5 1429.8 L762.5 1427.8 L764.5 1425.9 L766.5 1423.9 L768.5 1422.0 L770.5 1420.0 L772.5 1418.0 L774.5 1416.1 L776.5 1414.1 L778.5 1412.1 L780.5 1410.1 L782.5 1408.1 L784.5 1406.1 L786.5 1404.0 L788.5 1402.0 L790.5 1400.0 L792.5 1397.9 L794.5 1395.9 L796.5 1393.8 L798.5 1391.8 L800.5 1389.7 L802.5 1387.6 L804.5 1385.5 L806.5 1383.4 L808.5 1381.2 L810.5 1379.1 L812.5 1376.9 L814.5 1374.6 L816.5 1372.3 L818.5 1370.0 L820.5 1367.7 L822.5 1365.3 L824.5 1363.0 L826.5 1360.5 L828.5 1358.1 L830.5 1355.7 L832.5 1353.2 L834.5 1350.7 L836.5 1348.2 L838.5 1345.7 L840.5 1343.2 L842.5 1340.6 L844.5 1338.0 L846.5 1335.5 L848.5 1332.9 L850.5 1330.2 L852.5 1327.6 L854.5 1325.0 L856.5 1322.3 L858.5 1319.7 L860.5 1317.0 L862.5 1314.3 L864.5 1311.5 L866.5 1308.8 L868.5 1306.0 L870.5 1303.2 L872.5 1300.5 L874.5 1297.8 L876.5 1295.1 L878.5 1292.5 L880.5 1289.9 L882.5 1287.4 L884.5 1284.9 L886.5 1282.4 L888.5 1280.0 L890.5 1277.6 L892.5 1275.2 L894.5 1273.0 L896.5 1270.8 L898.5 1268.8 L900.5 1266.9 L902.5 1265.3 L904.5 1263.8 L906.5 1262.6 L908.5 1261.5 L910.5 1260.6 L912.5 1260.0 L914.5 1259.5 L916.5 1259.2 L918.5 1259.2 L920.5 1259.2 L922.5 1259.3 L924.5 1259.5 L926.5 1259.7 L928.5 1260.1 L930.5 1260.5 L932.5 1261.1 L934.5 1261.9 L936.5 1262.8 L938.5 1263.8 L940.5 1264.9 L942.5 1266.0 L944.5 1267.1 L946.5 1268.2 L948.5 1269.3 L950.5 1270.2 L952.5 1271.1 L954.5 1272.0 L956.5 1272.7 L958.5 1273.5 L960.5 1274.2 L962.5 1274.9 L964.5 1275.5 L966.5 1276.1 L968.5 1276.6 L970.5 1277.1 L972.5 1277.5 L974.5 1277.8 L976.5 1278.1 L978.5 1278.4 L980.5 1278.6 L982.5 1278.8 L984.5 1278.9 L986.5 1279.0 L988.5 1279.0 L990.5 1279.0 L992.5 1278.8 L994.5 1278.7 L996.5 1278.4 L998.5 1278.1 L1000.5 1277.8 L1002.5 1277.4 L1004.5 1277.0 L1006.5 1276.6 L1008.5 1276.1 L1010.5 1275.6 L1012.5 1275.0 L1014.5 1274.5 L1016.5 1274.0 L1018.5 1273.5 L1020.5 1272.9 L1022.5 1272.4 L1024.5 1271.9 L1026.5 1271.3 L1028.5 1270.8 L1030.5 1270.3 L1032.5 1269.7 L1034.5 1269.2 L1036.5 1268.8 L1038.5 1268.5 L1040.5 1268.2 L1042.5 1268.0 L1044.5 1267.9 L1046.5 1267.9 L1048.5 1267.9 L1050.5 1268.0 L1052.5 1268.1 L1054.5 1268.4 L1056.5 1268.7 L1058.5 1269.2 L1060.5 1270.0 L1062.5 1271.0 L1064.5 1272.4 L1066.5 1274.2 L1068.5 1276.1 L1070.5 1278.2 L1072.5 1280.3 L1074.5 1282.4 L1076.5 1284.3 L1078.5 1286.1 L1080.5 1287.8 L1082.5 1289.5 L1084.5 1291.1 L1086.5 1292.7 L1088.5 1294.4 L1090.5 1296.1 L1092.5 1297.9 L1094.5 1299.7 L1096.5 1301.5 L1098.5 1303.3 L1100.5 1305.0 L1102.5 1306.6 L1104.5 1308.1 L1106.5 1309.5 L1108.5 1310.9 L1110.5 1312.1 L1112.5 1313.3 L1114.5 1314.3 L1116.5 1315.3 L1118.5 1316.2 L1120.5 1317.0 L1122.5 1317.7 L1124.5 1318.4 L1126.5 1318.9 L1128.5 1319.3 L1130.5 1319.6 L1132.5 1319.7 L1134.5 1319.8 L1136.5 1319.9 L1138.5 1319.9 L1140.5 1319.9 L1142.5 1319.9 L1144.5 1319.8 L1146.5 1319.8 L1148.5 1319.6 L1150.5 1319.5 L1152.5 1319.3 L1154.5 1319.0 L1156.5 1318.7 L1158.5 1318.3 L1160.5 1317.8 L1162.5 1317.2 L1164.5 1316.5 L1166.5 1315.7 L1168.5 1314.8 L1170.5 1313.8 L1172.5 1312.8 L1174.5 1311.6 L1176.5 1310.4 L1178.5 1309.1 L1180.5 1307.6 L1182.5 1306.1 L1184.5 1304.5 L1186.5 1302.7 L1188.5 1300.9 L1190.5 1298.9 L1192.5 1296.7 L1194.5 1294.5 L1196.5 1292.2 L1198.5 1289.8 L1200.5 1287.4 L1202.5 1284.8 L1204.5 1282.3 L1206.5 1279.7 L1208.5 1277.1 L1210.5 1274.5 L1212.5 1272.0 L1214.5 1269.6 L1216.5 1267.3 L1218.5 1265.1 L1220.5 1262.9 L1222.5 1261.0 L1224.5 1259.2 L1226.5 1257.6 L1228.5 1256.2 L1230.5 1255.0 L1232.5 1253.9 L1234.5 1253.0 L1236.5 1252.3 L1238.5 1251.8 L1240.5 1251.5 L1242.5 1251.4 L1244.5 1251.6 L1246.5 1251.9 L1248.5 1252.5 L1250.5 1253.1 L1252.5 1254.0 L1254.5 1254.9 L1256.5 1256.1 L1258.5 1257.4 L1260.5 1258.8 L1262.5 1260.4 L1264.5 1262.0 L1266.5 1263.6 L1268.5 1265.2 L1270.5 1266.7 L1272.5 1268.0 L1274.5 1269.4 L1276.5 1270.6 L1278.5 1271.8 L1280.5 1272.9 L1282.5 1274.0 L1284.5 1275.0 L1286.5 1276.0 L1288.5 1276.9 L1290.5 1277.8 L1292.5 1278.4 L1294.5 1279.0 L1296.5 1279.3 L1298.5 1279.4 L1300.5 1279.5 L1302.5 1279.4 L1304.5 1279.2 L1306.5 1278.9 L1308.5 1278.6 L1310.5 1278.3 L1312.5 1277.8 L1314.5 1277.3 L1316.5 1276.6 L1318.5 1275.9 L1320.5 1275.0 L1322.5 1274.1 L1324.5 1273.1 L1326.5 1272.0 L1328.5 1270.8 L1330.5 1269.6 L1332.5 1268.2 L1334.5 1266.8 L1336.5 1265.2 L1338.5 1263.5 L1340.5 1261.6 L1342.5 1259.7 L1344.5 1257.6 L1346.5 1255.4 L1348.5 1253.2 L1350.5 1250.8 L1352.5 1248.4 L1354.5 1245.9 L1356.5 1243.4 L1358.5 1240.7 L1360.5 1238.0 L1362.5 1235.3 L1364.5 1232.4 L1366.5 1229.4 L1368.5 1226.2 L1370.5 1222.9 L1372.5 1219.4 L1374.5 1215.9 L1376.5 1212.2 L1378.5 1208.4 L1380.5 1204.6 L1382.5 1200.7 L1384.5 1196.8 L1386.5 1192.8 L1388.5 1188.7 L1390.5 1184.7 L1392.5 1180.7 L1394.5 1176.7 L1396.5 1172.7 L1398.5 1168.7 L1400.5 1164.7 L1402.5 1160.7 L1404.5 1156.6 L1406.5 1152.4 L1408.5 1148.2 L1410.5 1143.9 L1412.5 1139.5 L1414.5 1135.1 L1416.5 1130.7 L1418.5 1126.3 L1420.5 1121.8 L1422.5 1117.4 L1424.5 1113.0 L1426.5 1108.6 L1428.5 1104.2 L1430.5 1099.8 L1432.5 1095.4 L1434.5 1091.1 L1436.5 1086.7 L1438.5 1082.4 L1440.5 1078.1 L1442.5 1073.8 L1444.5 1069.5 L1446.5 1065.4 L1448.5 1061.2 L1450.5 1057.2 L1452.5 1053.2 L1454.5 1049.2 L1456.5 1045.4 L1458.5 1041.6 L1460.5 1037.9 L1462.5 1034.4 L1464.5 1030.9 L1466.5 1027.6 L1468.5 1024.3 L1470.5 1021.2 L1472.5 1018.1 L1474.5 1015.0 L1476.5 1012.1 L1478.5 1009.1 L1480.5 1006.3 L1482.5 1003.5 L1484.5 1000.8 L1486.5 998.1 L1488.5 995.5 L1490.5 992.9 L1492.5 990.4 L1494.5 988.0 L1496.5 985.5 L1498.5 983.1 L1500.5 980.7 L1502.5 978.3 L1504.5 975.9 L1506.5 973.5 L1508.5 971.1 L1510.5 968.7 L1512.5 966.3 L1514.5 964.0 L1516.5 961.7 L1518.5 959.5 L1520.5 957.3 L1522.5 955.2 L1524.5 953.2 L1526.5 951.3 L1528.5 949.6 L1530.5 948.0 L1532.5 946.5 L1534.5 945.2 L1536.5 943.9 L1538.5 942.8 L1540.5 941.7 L1542.5 940.7 L1544.5 939.7 L1546.5 938.8 L1548.5 937.9 L1550.5 937.0 L1552.5 936.1 L1554.5 935.3 L1556.5 934.4 L1558.5 933.6 L1560.5 932.7 L1562.5 931.9 L1564.5 931.1 L1566.5 930.3 L1568.5 929.5 L1570.5 928.8 L1572.5 928.1 L1574.5 927.5 L1576.5 926.9 L1578.5 926.4 L1580.5 925.8 L1582.5 925.3 L1584.5 924.8 L1586.5 924.4 L1588.5 923.9 L1590.5 923.4 L1592.5 923.0 L1594.5 922.5 L1596.5 922.1 L1598.5 921.6 L1600.5 921.1 L1602.5 920.6 L1604.5 920.2 L1606.5 919.7 L1608.5 919.4 L1610.5 919.1 L1612.5 918.9 L1614.5 918.8 L1616.5 918.8 L1618.5 919.0 L1620.5 919.2 L1622.5 919.5 L1624.5 919.8 L1626.5 920.2 L1628.5 920.5 L1630.5 920.9 L1632.5 921.2 L1634.5 921.5 L1636.5 921.8 L1638.5 922.1 L1640.5 922.3 L1642.5 922.5 L1644.5 922.7 L1646.5 922.8 L1648.5 922.9 L1650.5 923.0 L1652.5 923.0 L1654.5 923.1 L1656.5 923.3 L1658.5 923.4 L1660.5 923.5 L1662.5 923.7 L1664.5 923.8 L1666.5 923.8 L1668.5 923.9 L1670.5 923.9 L1672.5 923.8 L1674.5 923.6 L1676.5 923.4 L1678.5 923.1 L1680.5 922.8 L1682.5 922.4 L1684.5 921.8 L1686.5 921.1 L1688.5 920.2 L1690.5 919.2 L1692.5 918.0 L1694.5 916.7 L1696.5 915.1 L1698.5 913.4 L1700.5 911.5 L1702.5 909.5 L1704.5 907.2 L1706.5 904.7 L1708.5 902.2 L1710.5 899.5 L1712.5 896.8 L1714.5 894.1 L1716.5 891.4 L1718.5 888.6 L1720.5 885.9 L1722.5 883.2 L1724.5 880.6 L1726.5 878.0 L1728.5 875.5 L1730.5 873.1 L1732.5 870.8 L1734.5 868.6 L1736.5 866.6 L1738.5 864.6 L1740.5 862.8 L1742.5 861.2 L1744.5 859.8 L1746.5 858.5 L1748.5 857.5 L1750.5 856.6 L1752.5 856.1 L1754.5 855.7 L1756.5 855.4 L1758.5 855.3 L1760.5 855.3 L1762.5 855.5 L1764.5 855.9 L1766.5 856.6 L1768.5 857.4 L1770.5 858.4 L1772.5 859.5 L1774.5 860.7 L1776.5 862.0 L1778.5 863.4 L1780.5 864.9 L1782.5 866.4 L1784.5 868.0 L1786.5 869.5 L1788.5 871.0 L1790.5 872.5 L1792.5 874.0 L1794.5 875.4 L1796.5 876.9 L1798.5 878.3 L1800.5 879.7 L1802.5 881.1 L1804.5 882.6 L1806.5 884.1 L1808.5 885.6 L1810.5 887.3 L1812.5 889.0 L1814.5 890.7 L1816.5 892.5 L1818.5 894.3 L1820.5 896.0 L1822.5 897.8 L1824.5 899.4 L1826.5 901.1 L1828.5 902.7 L1830.5 904.3 L1832.5 906.0 L1834.5 907.8 L1836.5 909.8 L1838.5 912.0 L1840.5 914.5 L1842.5 917.2 L1844.5 919.9 L1846.5 922.7 L1848.5 925.4 L1850.5 928.0 L1852.5 930.4 L1854.5 932.7 L1856.5 934.8 L1858.5 936.8 L1860.5 938.8 L1862.5 940.8 L1864.5 942.7 L1866.5 944.6 L1868.5 946.5 L1870.5 948.4 L1872.5 950.2 L1874.5 951.9 L1876.5 953.5 L1878.5 954.9 L1880.5 956.3 L1882.5 957.5 L1884.5 958.7 L1886.5 959.7 L1888.5 960.6 L1890.5 961.3 L1892.5 962.0 L1894.5 962.5 L1896.5 963.0 L1898.5 963.4 L1900.5 963.7 L1902.5 964.0 L1904.5 964.1 L1906.5 964.2 L1908.5 964.3 L1910.5 964.2 L1912.5 964.1 L1914.5 964.0 L1916.5 963.8 L1918.5 963.5 L1920.5 963.2 L1922.5 962.8 L1924.5 962.2 L1926.5 961.7 L1928.5 961.1 L1930.5 960.5 L1932.5 960.0 L1934.5 959.6 L1936.5 959.3 L1938.5 959.1 L1940.5 959.0 L1942.5 958.8 L1944.5 958.8 L1946.5 958.7 L1948.5 958.7 L1950.5 958.8 L1952.5 958.8 L1954.5 958.9 L1956.5 959.1 L1958.5 959.3 L1960.5 959.7 L1962.5 960.1 L1964.5 960.7 L1966.5 961.5 L1968.5 962.5 L1970.5 963.5 L1972.5 964.7 L1974.5 965.9 L1976.5 967.2 L1978.5 968.4 L1980.5 969.8 L1982.5 971.2 L1984.5 972.6 L1986.5 974.1 L1988.5 975.7 L1990.5 977.3 L1992.5 979.0 L1994.5 980.8 L1996.5 982.6 L1998.5 984.4 L2000.5 986.2 L2002.5 988.0 L2004.5 989.7 L2006.5 991.4 L2008.5 993.0 L2010.5 994.7 L2012.5 996.2 L2014.5 997.7 L2016.5 999.2 L2018.5 1000.6 L2020.5 1001.9 L2022.5 1003.2 L2024.5 1004.4 L2026.5 1005.5 L2028.5 1006.6 L2030.5 1007.7 L2032.5 1008.7 L2034.5 1009.7 L2036.5 1010.6 L2038.5 1011.4 L2040.5 1012.1 L2042.5 1012.6 L2044.5 1013.0 L2046.5 1013.3 L2048.5 1013.5 L2050.5 1013.7 L2052.5 1013.7 L2054.5 1013.8 L2056.5 1013.8 L2058.5 1013.8 L2060.5 1013.8 L2062.5 1013.8 L2064.5 1013.7 L2066.5 1013.6 L2068.5 1013.5 L2070.5 1013.4 L2072.5 1013.2 L2074.5 1013.0 L2076.5 1012.8 L2078.5 1012.5 L2080.5 1012.2 L2082.5 1011.9 L2084.5 1011.7 L2086.5 1011.5 L2088.5 1011.3 L2090.5 1011.1 L2092.5 1011.0 L2094.5 1010.8 L2096.5 1010.8 L2098.5 1010.7 L2100.5 1010.7 L2102.5 1010.7 L2104.5 1010.7 L2106.5 1010.8 L2108.5 1010.9 L2110.5 1011.0 L2112.5 1011.2 L2114.5 1011.5 L2116.5 1011.8 L2118.5 1012.2 L2120.5 1012.7 L2122.5 1013.3 L2124.5 1013.9 L2126.5 1014.5 L2128.5 1015.1 L2130.5 1015.8 L2132.5 1016.6 L2134.5 1017.4 L2136.5 1018.3 L2138.5 1019.3 L2140.5 1020.3 L2142.5 1021.4 L2144.5 1022.4 L2146.2 1023.2" stroke="#c078e0"/>
</g>
<rect x="419.7" y="119" width="500.1" height="510.7" fill="#fff" stroke="#000" stroke-width="2.6"/>
<rect x="424.4" y="163.65" width="167.7" height="11.5" fill="#4e4e4e"/>
<text x="603.4" y="189.1" font-family="'Liberation Serif', serif" font-weight="bold" font-size="67.5" fill="#000" stroke="#fff" stroke-width="1" textLength="144" lengthAdjust="spacingAndGlyphs">Bulk</text>
<rect x="424.4" y="250.85" width="167.7" height="11.5" fill="#ff3b3b"/>
<text x="602" y="279.7" font-family="'Liberation Serif', serif" font-weight="bold" font-size="67.5" fill="#000" stroke="#fff" stroke-width="1" textLength="284" lengthAdjust="spacingAndGlyphs">(100)-PbI</text>
<text x="885.5" y="295.7" font-family="'Liberation Serif', serif" font-weight="bold" font-size="46" fill="#000" stroke="#fff" stroke-width="0.8">5</text>
<rect x="424.4" y="354.75" width="167.7" height="11.5" fill="#0070e0"/>
<text x="602" y="383.5" font-family="'Liberation Serif', serif" font-weight="bold" font-size="67.5" fill="#000" stroke="#fff" stroke-width="1" textLength="284" lengthAdjust="spacingAndGlyphs">(100)-PbI</text>
<text x="885.5" y="399.5" font-family="'Liberation Serif', serif" font-weight="bold" font-size="46" fill="#000" stroke="#fff" stroke-width="0.8">6</text>
<rect x="424.4" y="458.55" width="167.7" height="11.5" fill="#00b068"/>
<text x="602" y="487.3" font-family="'Liberation Serif', serif" font-weight="bold" font-size="67.5" fill="#000" stroke="#fff" stroke-width="1" textLength="284" lengthAdjust="spacingAndGlyphs">(111)-PbI</text>
<text x="885.5" y="503.3" font-family="'Liberation Serif', serif" font-weight="bold" font-size="46" fill="#000" stroke="#fff" stroke-width="0.8">3</text>
<rect x="424.4" y="562.35" width="167.7" height="11.5" fill="#c078e0"/>
<text x="602" y="591.1" font-family="'Liberation Serif', serif" font-weight="bold" font-size="67.5" fill="#000" stroke="#fff" stroke-width="1" textLength="284" lengthAdjust="spacingAndGlyphs">(111)-PbI</text>
<text x="885.5" y="607.1" font-family="'Liberation Serif', serif" font-weight="bold" font-size="46" fill="#000" stroke="#fff" stroke-width="0.8">6</text>
<g font-family="'Liberation Serif', serif" fill="#000" stroke="#fff" stroke-width="0.6">
<text x="270" y="85.8" font-size="78" text-anchor="end">1.4x10</text>
<text x="269" y="62" font-size="51">6</text>
<text x="270" y="307.8" font-size="78" text-anchor="end">1.2x10</text>
<text x="269" y="284.2" font-size="51">6</text>
<text x="264.9" y="507.3" font-size="78" text-anchor="end">1x10</text>
<text x="263" y="474.9" font-size="51">6</text>
<text x="263.7" y="712.3" font-size="78" text-anchor="end">8x10</text>
<text x="262" y="682.7" font-size="51">5</text>
<text x="263.7" y="920.4" font-size="78" text-anchor="end">6x10</text>
<text x="262" y="888.3" font-size="51">5</text>
<text x="263.7" y="1128.4" font-size="78" text-anchor="end">4x10</text>
<text x="262" y="1097" font-size="51">5</text>
<text x="263.7" y="1336.7" font-size="78" text-anchor="end">2x10</text>
<text x="262" y="1304.6" font-size="51">5</text>
<text x="290.3" y="1535.7" font-size="78" text-anchor="end">0</text>
<text x="340.50" y="1622.8" font-size="78" text-anchor="middle">0</text>
<text x="657.00" y="1622.8" font-size="78" text-anchor="middle">2</text>
<text x="973.50" y="1622.8" font-size="78" text-anchor="middle">4</text>
<text x="1290.00" y="1622.8" font-size="78" text-anchor="middle">6</text>
<text x="1606.50" y="1622.8" font-size="78" text-anchor="middle">8</text>
<text x="1923.00" y="1622.8" font-size="78" text-anchor="middle">10</text>
<text x="2239.50" y="1622.8" font-size="78" text-anchor="middle">12</text>
<text x="1288" y="1750" font-size="78" text-anchor="middle" textLength="609" lengthAdjust="spacingAndGlyphs">Photon Energy(eV)</text>
<text transform="translate(73.7 0) rotate(-90)" fill="#000"><tspan x="-866.9" y="0" font-family="'Noto Serif CJK SC', 'Liberation Serif', serif" font-size="66.7" textLength="48.9845" lengthAdjust="spacingAndGlyphs">α</tspan><tspan x="-817.6" y="0" font-family="'Liberation Serif', serif" font-size="82">(</tspan><tspan x="-791.7" y="0" font-family="'Noto Serif CJK SC', 'Liberation Serif', serif" font-size="66.7">ω</tspan><tspan x="-740.8" y="0" font-family="'Liberation Serif', serif" font-size="82">)</tspan></text>
</g>
</svg>
</body>
</html>
